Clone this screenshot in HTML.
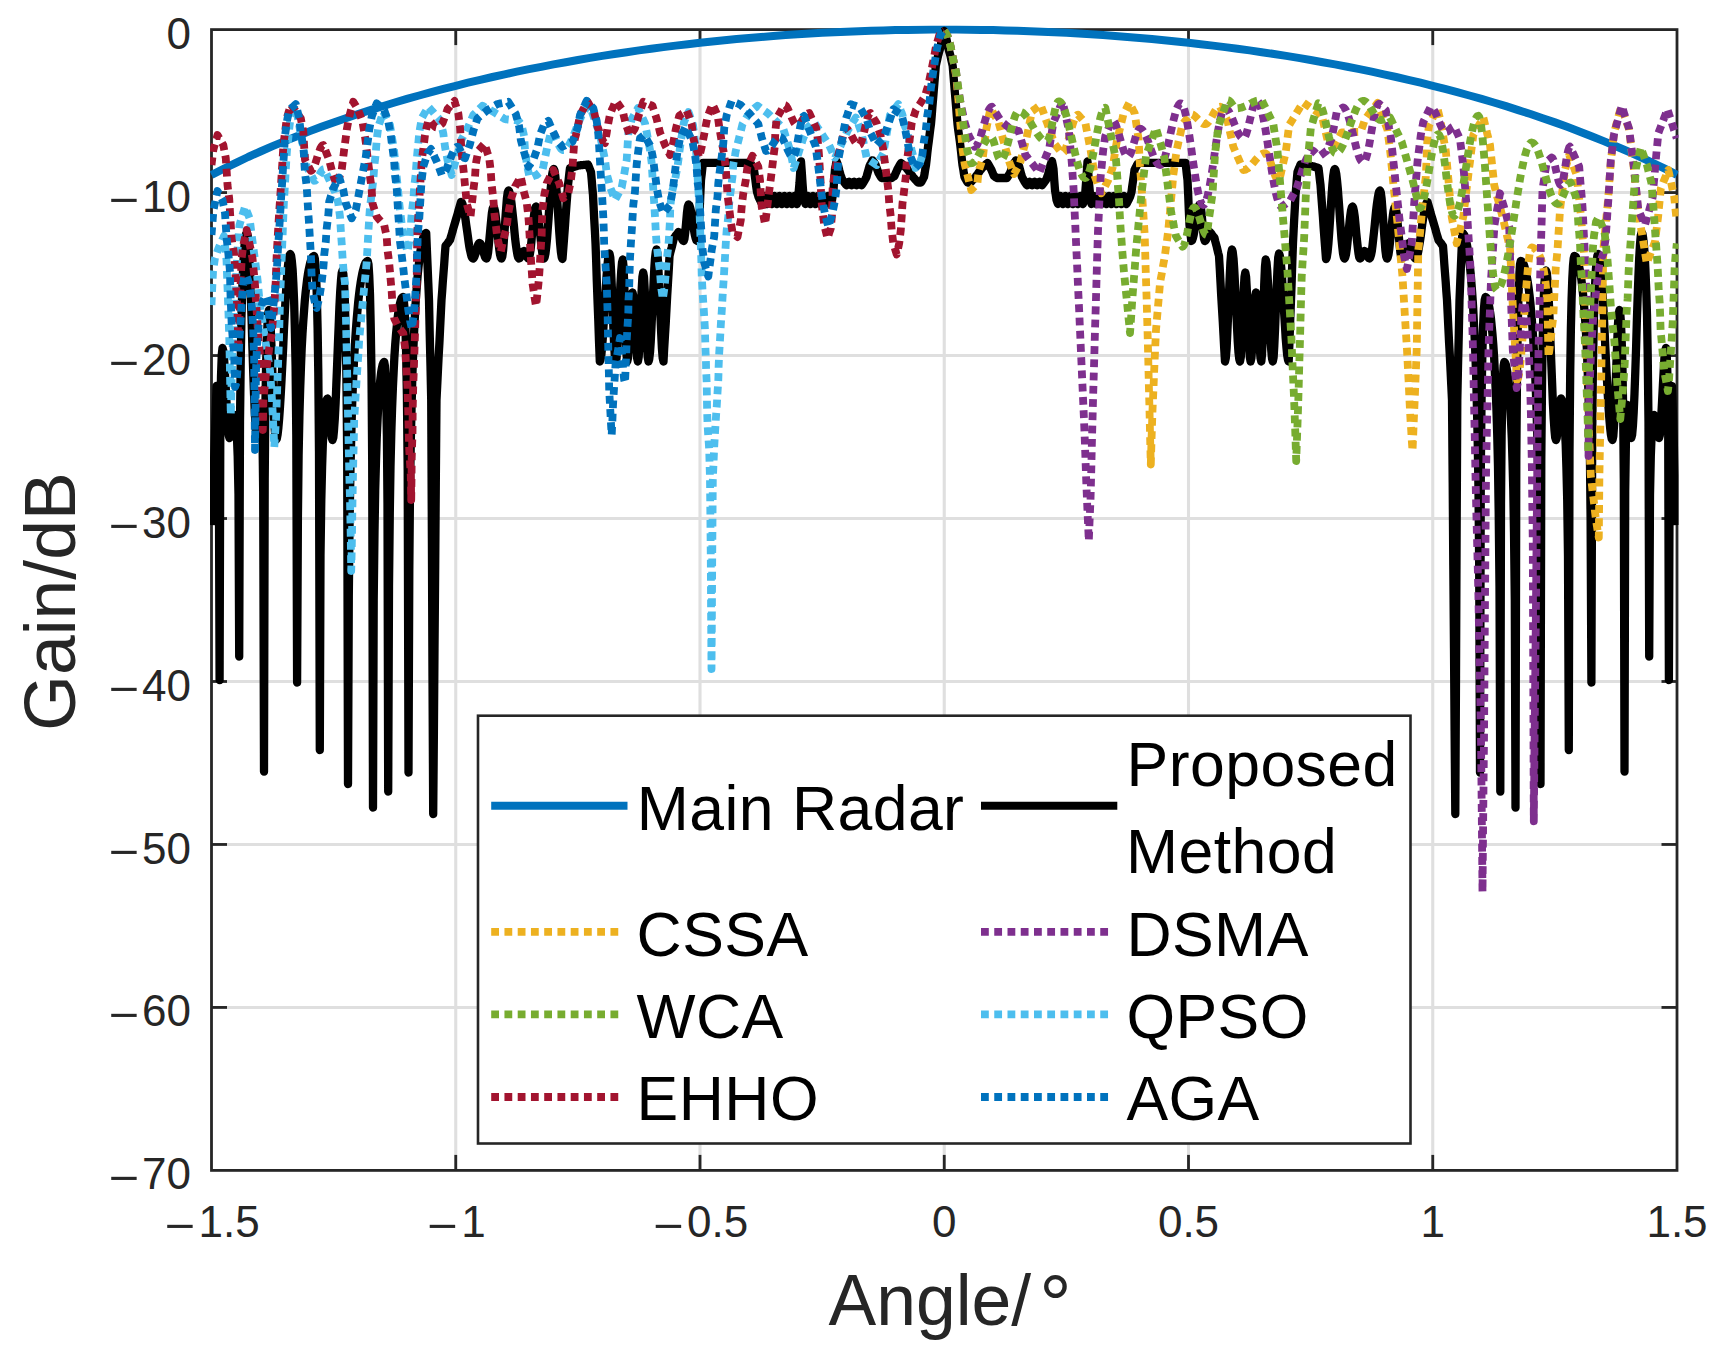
<!DOCTYPE html>
<html lang="en"><head><meta charset="utf-8"><title>Gain vs Angle</title>
<style>html,body{margin:0;padding:0;background:#fff;}body{width:1725px;height:1354px;overflow:hidden;}svg{display:block;}text{font-family:"Liberation Sans",sans-serif;fill:#262626;}.tk{font-size:44px;}.lg{font-size:62.5px;fill:#000;letter-spacing:0.45px;}.al{font-size:71.5px;}.c{fill:none;stroke-linejoin:round;}.d{fill:none;stroke-width:7.8;stroke-dasharray:7.8 5.45;stroke-linejoin:round;}</style></head><body>
<svg width="1725" height="1354" viewBox="0 0 1725 1354">
<rect x="0" y="0" width="1725" height="1354" fill="#fff"/>
<g stroke="#dfdfdf" stroke-width="3.1" fill="none">
<line x1="455.75" y1="29.6" x2="455.75" y2="1170.4"/>
<line x1="700.00" y1="29.6" x2="700.00" y2="1170.4"/>
<line x1="944.25" y1="29.6" x2="944.25" y2="1170.4"/>
<line x1="1188.50" y1="29.6" x2="1188.50" y2="1170.4"/>
<line x1="1432.75" y1="29.6" x2="1432.75" y2="1170.4"/>
<line x1="211.5" y1="192.57" x2="1677.0" y2="192.57"/>
<line x1="211.5" y1="355.54" x2="1677.0" y2="355.54"/>
<line x1="211.5" y1="518.51" x2="1677.0" y2="518.51"/>
<line x1="211.5" y1="681.49" x2="1677.0" y2="681.49"/>
<line x1="211.5" y1="844.46" x2="1677.0" y2="844.46"/>
<line x1="211.5" y1="1007.43" x2="1677.0" y2="1007.43"/>
</g>
<g stroke="#262626" stroke-width="2.8" fill="none" stroke-linecap="butt">
<rect x="211.5" y="29.6" width="1465.5" height="1140.8000000000002"/>
<line x1="455.75" y1="1170.4" x2="455.75" y2="1154.9"/>
<line x1="455.75" y1="29.6" x2="455.75" y2="45.1"/>
<line x1="700.00" y1="1170.4" x2="700.00" y2="1154.9"/>
<line x1="700.00" y1="29.6" x2="700.00" y2="45.1"/>
<line x1="944.25" y1="1170.4" x2="944.25" y2="1154.9"/>
<line x1="944.25" y1="29.6" x2="944.25" y2="45.1"/>
<line x1="1188.50" y1="1170.4" x2="1188.50" y2="1154.9"/>
<line x1="1188.50" y1="29.6" x2="1188.50" y2="45.1"/>
<line x1="1432.75" y1="1170.4" x2="1432.75" y2="1154.9"/>
<line x1="1432.75" y1="29.6" x2="1432.75" y2="45.1"/>
<line x1="211.5" y1="192.57" x2="227.0" y2="192.57"/>
<line x1="1677.0" y1="192.57" x2="1661.5" y2="192.57"/>
<line x1="211.5" y1="355.54" x2="227.0" y2="355.54"/>
<line x1="1677.0" y1="355.54" x2="1661.5" y2="355.54"/>
<line x1="211.5" y1="518.51" x2="227.0" y2="518.51"/>
<line x1="1677.0" y1="518.51" x2="1661.5" y2="518.51"/>
<line x1="211.5" y1="681.49" x2="227.0" y2="681.49"/>
<line x1="1677.0" y1="681.49" x2="1661.5" y2="681.49"/>
<line x1="211.5" y1="844.46" x2="227.0" y2="844.46"/>
<line x1="1677.0" y1="844.46" x2="1661.5" y2="844.46"/>
<line x1="211.5" y1="1007.43" x2="227.0" y2="1007.43"/>
<line x1="1677.0" y1="1007.43" x2="1661.5" y2="1007.43"/>
</g>
<defs><clipPath id="pc"><rect x="210.0" y="25.6" width="1468.5" height="1144.8000000000002"/></clipPath></defs>
<g clip-path="url(#pc)">
<polyline class="c" stroke="#0072bd" stroke-width="8" points="211.5,174.9 223.7,168.7 235.9,162.8 248.1,157.0 260.4,151.5 272.6,146.2 284.8,141.1 297.0,136.2 309.2,131.4 321.4,126.8 333.6,122.4 345.8,118.2 358.1,114.0 370.3,110.1 382.5,106.2 394.7,102.5 406.9,98.9 419.1,95.5 431.3,92.1 443.5,88.9 455.8,85.8 468.0,82.7 480.2,79.8 492.4,77.0 504.6,74.3 516.8,71.7 529.0,69.2 541.2,66.8 553.5,64.4 565.7,62.2 577.9,60.0 590.1,57.9 602.3,55.9 614.5,54.0 626.7,52.2 638.9,50.4 651.1,48.7 663.4,47.1 675.6,45.6 687.8,44.2 700.0,42.8 712.2,41.5 724.4,40.2 736.6,39.1 748.9,38.0 761.1,37.0 773.3,36.0 785.5,35.1 797.7,34.3 809.9,33.5 822.1,32.8 834.3,32.2 846.6,31.7 858.8,31.2 871.0,30.8 883.2,30.4 895.4,30.1 907.6,29.9 919.8,29.7 932.0,29.6 944.2,29.6 956.5,29.6 968.7,29.7 980.9,29.9 993.1,30.1 1005.3,30.4 1017.5,30.8 1029.7,31.2 1041.9,31.7 1054.2,32.2 1066.4,32.8 1078.6,33.5 1090.8,34.3 1103.0,35.1 1115.2,36.0 1127.4,37.0 1139.7,38.0 1151.9,39.1 1164.1,40.2 1176.3,41.5 1188.5,42.8 1200.7,44.2 1212.9,45.6 1225.1,47.1 1237.4,48.7 1249.6,50.4 1261.8,52.2 1274.0,54.0 1286.2,55.9 1298.4,57.9 1310.6,60.0 1322.8,62.2 1335.0,64.4 1347.3,66.8 1359.5,69.2 1371.7,71.7 1383.9,74.3 1396.1,77.0 1408.3,79.8 1420.5,82.7 1432.8,85.8 1445.0,88.9 1457.2,92.1 1469.4,95.5 1481.6,98.9 1493.8,102.5 1506.0,106.2 1518.2,110.1 1530.5,114.0 1542.7,118.2 1554.9,122.4 1567.1,126.8 1579.3,131.4 1591.5,136.2 1603.7,141.1 1615.9,146.2 1628.2,151.5 1640.4,157.0 1652.6,162.8 1664.8,168.7 1677.0,174.9"/>
<polyline class="c" stroke="#000" stroke-width="8.3" points="211.0,525.0 211.6,513.8 212.2,502.5 212.9,491.2 213.5,480.0 214.2,456.5 215.0,433.0 215.8,409.5 216.5,386.0 217.3,391.8 218.0,411.3 218.8,455.5 219.6,680.0 220.3,426.5 221.0,376.6 221.8,354.5 222.5,348.0 223.3,350.7 224.1,358.5 224.8,370.5 225.6,385.2 226.4,400.8 227.2,415.5 227.9,427.5 228.7,435.3 229.5,438.0 230.2,436.9 230.9,433.7 231.6,429.1 232.4,423.9 233.1,419.3 233.8,416.1 234.5,415.0 235.3,417.1 236.1,423.6 236.9,435.8 237.7,456.4 238.5,494.7 239.2,656.5 240.0,421.9 240.8,354.6 241.5,315.2 242.3,288.3 243.1,269.0 243.8,254.8 244.6,244.7 245.4,237.8 246.1,233.8 246.9,232.5 247.7,235.5 248.5,244.3 249.3,258.3 250.1,276.9 250.9,298.8 251.7,322.9 252.4,347.6 253.2,371.7 254.0,393.6 254.8,412.2 255.6,426.2 256.4,435.0 257.2,438.0 258.0,434.8 258.7,426.6 259.5,416.4 260.2,408.2 261.0,405.0 261.8,412.2 262.5,436.5 263.2,491.7 264.0,771.5 264.7,478.7 265.4,405.1 266.1,364.1 266.9,338.2 267.6,322.0 268.3,312.9 269.0,310.0 269.8,313.9 270.6,325.2 271.3,342.5 272.1,363.7 272.9,386.3 273.7,407.5 274.4,424.8 275.2,436.1 276.0,440.0 276.8,438.6 277.6,434.4 278.4,427.5 279.2,418.2 280.0,406.8 280.8,393.5 281.6,378.8 282.4,363.1 283.2,347.0 283.9,330.9 284.7,315.2 285.5,300.5 286.3,287.2 287.1,275.8 287.9,266.5 288.7,259.6 289.5,255.4 290.3,254.0 291.1,255.6 291.8,260.6 292.6,269.3 293.3,282.4 294.1,301.0 294.8,327.4 295.6,366.9 296.3,435.3 297.1,682.5 297.9,518.1 298.6,455.6 299.4,416.5 300.2,388.2 301.0,366.2 301.7,348.4 302.5,333.5 303.3,320.9 304.1,310.1 304.8,300.8 305.6,292.7 306.4,285.7 307.1,279.6 307.9,274.3 308.7,269.8 309.5,266.1 310.2,262.9 311.0,260.4 311.8,258.5 312.6,257.1 313.3,256.3 314.1,256.0 314.8,258.4 315.5,265.7 316.2,278.7 316.9,298.5 317.6,327.9 318.3,372.8 319.0,451.7 319.8,750.0 320.5,555.5 321.3,499.7 322.1,467.0 322.8,444.8 323.6,428.8 324.4,417.0 325.2,408.6 326.0,402.9 326.7,399.6 327.5,398.5 328.2,400.6 328.9,406.3 329.6,414.6 330.4,423.9 331.1,432.2 331.8,437.9 332.5,440.0 333.3,437.5 334.0,430.3 334.8,418.7 335.6,403.4 336.3,385.3 337.1,365.5 337.9,345.0 338.7,325.2 339.4,307.1 340.2,291.8 341.0,280.2 341.7,273.0 342.5,270.5 343.3,273.7 344.1,283.8 344.9,301.9 345.6,330.7 346.4,376.3 347.2,458.3 348.0,784.0 348.8,595.5 349.6,520.5 350.4,473.1 351.2,438.6 351.9,411.6 352.7,389.6 353.5,371.1 354.3,355.4 355.1,341.8 355.9,329.9 356.7,319.4 357.5,310.2 358.2,302.1 359.0,294.9 359.8,288.6 360.6,283.0 361.4,278.2 362.2,274.0 363.0,270.5 363.8,267.5 364.5,265.2 365.3,263.3 366.1,262.0 366.9,261.3 367.7,261.0 368.5,264.5 369.2,275.2 370.0,294.4 370.7,325.0 371.5,373.6 372.2,460.8 373.0,807.5 373.7,600.6 374.5,532.0 375.2,490.3 376.0,460.8 376.7,438.3 377.5,420.7 378.2,406.4 379.0,394.9 379.7,385.5 380.5,377.9 381.2,372.0 382.0,367.6 382.7,364.5 383.5,362.6 384.2,362.0 384.9,365.7 385.5,377.4 386.2,399.0 386.9,435.6 387.5,503.8 388.2,791.5 389.0,586.2 389.8,512.2 390.5,466.4 391.3,433.5 392.1,408.1 392.9,387.7 393.7,370.9 394.4,356.8 395.2,344.8 396.0,334.7 396.8,326.1 397.5,318.9 398.3,312.8 399.1,307.8 399.9,303.9 400.7,300.8 401.4,298.7 402.2,297.4 403.0,297.0 403.8,300.0 404.6,309.3 405.4,326.1 406.1,352.7 406.9,394.9 407.7,470.9 408.5,772.5 409.3,569.3 410.0,490.8 410.8,441.5 411.6,405.8 412.3,377.9 413.1,355.3 413.9,336.4 414.7,320.4 415.4,306.6 416.2,294.6 417.0,284.1 417.7,275.0 418.5,267.1 419.3,260.1 420.0,254.1 420.8,249.0 421.6,244.6 422.4,241.0 423.1,238.1 423.9,235.8 424.7,234.3 425.4,233.3 426.2,233.0 426.9,249.8 427.6,266.5 428.3,283.2 429.0,300.0 429.7,333.3 430.5,366.7 431.2,400.0 431.9,538.0 432.5,676.0 433.2,814.0 433.9,731.2 434.5,648.4 435.2,565.6 435.8,482.8 436.5,400.0 437.2,385.7 437.9,371.4 438.6,357.1 439.4,342.9 440.1,328.6 440.8,314.3 441.5,300.0 442.2,291.0 442.8,282.0 443.5,273.0 444.2,264.0 444.8,255.0 445.5,246.0 446.2,245.0 447.0,244.0 447.8,243.0 448.5,242.0 449.2,241.0 450.0,240.0 450.8,237.3 451.6,234.6 452.4,231.9 453.1,229.1 453.9,226.4 454.7,223.7 455.5,221.0 456.3,218.3 457.1,215.6 457.9,212.9 458.6,210.1 459.4,207.4 460.2,204.7 461.0,202.0 461.8,202.5 462.5,204.2 463.2,206.8 464.0,210.3 464.8,214.6 465.5,219.4 466.2,224.7 467.0,230.2 467.8,235.8 468.5,241.1 469.2,245.9 470.0,250.2 470.8,253.7 471.5,256.3 472.2,258.0 473.0,258.5 473.7,258.0 474.4,256.7 475.2,254.6 475.9,252.1 476.6,249.4 477.3,246.9 478.1,244.8 478.8,243.5 479.5,243.0 480.3,243.5 481.1,244.8 481.8,246.9 482.6,249.4 483.4,252.1 484.2,254.6 484.9,256.7 485.7,258.0 486.5,258.5 487.3,256.9 488.1,252.5 488.8,245.6 489.6,237.2 490.4,228.3 491.2,219.9 491.9,213.0 492.7,208.6 493.5,207.0 494.2,208.0 495.0,211.1 495.7,215.9 496.4,222.1 497.1,229.1 497.9,236.4 498.6,243.4 499.3,249.6 500.0,254.4 500.8,257.5 501.5,258.5 502.3,256.4 503.1,250.5 503.8,241.5 504.6,230.4 505.4,218.6 506.2,207.5 506.9,198.5 507.7,192.6 508.5,190.5 509.2,191.4 510.0,193.9 510.8,197.9 511.5,203.3 512.2,209.7 513.0,216.9 513.8,224.5 514.5,232.1 515.2,239.3 516.0,245.7 516.8,251.1 517.5,255.1 518.2,257.6 519.0,258.5 519.7,258.1 520.4,257.1 521.1,255.6 521.9,253.9 522.6,252.4 523.3,251.4 524.0,251.0 524.8,251.5 525.5,252.9 526.2,254.8 527.0,256.6 527.8,258.0 528.5,258.5 529.2,257.2 530.0,253.5 530.8,247.8 531.5,240.5 532.2,232.5 533.0,224.5 533.8,217.2 534.5,211.5 535.2,207.8 536.0,206.5 536.7,207.6 537.5,210.6 538.2,215.5 538.9,221.7 539.6,228.8 540.4,236.2 541.1,243.3 541.8,249.5 542.5,254.4 543.3,257.4 544.0,258.5 544.7,257.2 545.5,253.4 546.2,247.2 547.0,239.2 547.7,229.6 548.5,219.1 549.2,208.4 550.0,197.9 550.7,188.3 551.5,180.3 552.2,174.1 553.0,170.3 553.7,169.0 554.5,170.8 555.3,176.1 556.1,184.5 556.9,195.3 557.7,207.6 558.5,220.4 559.3,232.7 560.1,243.5 560.9,251.9 561.7,257.2 562.5,259.0 563.3,248.4 564.1,237.9 564.9,227.3 565.6,216.7 566.4,206.1 567.2,195.6 568.0,185.0 568.7,179.3 569.3,173.7 570.0,168.0 570.8,167.8 571.5,167.5 572.3,167.3 573.1,167.1 573.9,166.9 574.6,166.6 575.4,166.4 576.2,166.2 577.0,166.0 577.7,165.7 578.5,165.5 579.3,165.4 580.1,165.3 580.9,165.2 581.7,165.2 582.5,165.1 583.2,165.0 584.0,164.9 584.8,164.8 585.6,164.8 586.4,164.7 587.2,164.6 588.0,164.5 588.8,166.4 589.5,168.2 590.2,170.1 591.0,172.0 591.7,179.7 592.3,187.3 593.0,195.0 593.6,207.0 594.2,219.0 594.9,231.0 595.5,243.0 596.2,262.0 596.8,281.0 597.5,300.0 598.3,320.5 599.0,341.0 599.8,361.5 600.5,359.9 601.3,355.3 602.0,347.9 602.8,338.2 603.5,326.6 604.3,314.0 605.0,301.0 605.8,288.4 606.5,276.8 607.3,267.1 608.0,259.7 608.8,255.1 609.5,253.5 610.3,257.6 611.0,269.3 611.8,286.8 612.6,307.5 613.4,328.2 614.2,345.7 614.9,357.4 615.7,361.5 616.5,358.4 617.3,349.6 618.1,336.0 618.9,319.4 619.6,301.6 620.4,285.0 621.2,271.4 622.0,262.6 622.8,259.5 623.5,266.3 624.3,285.0 625.0,310.5 625.7,336.0 626.5,354.7 627.2,361.5 628.0,358.1 628.7,348.5 629.5,334.7 630.2,319.3 631.0,305.5 631.7,295.9 632.5,292.5 633.3,295.9 634.0,305.5 634.8,319.3 635.6,334.7 636.4,348.5 637.1,358.1 637.9,361.5 638.7,357.1 639.4,344.7 640.2,326.9 640.9,307.1 641.7,289.3 642.4,276.9 643.2,272.5 644.0,276.9 644.7,289.3 645.5,307.1 646.2,326.9 647.0,344.7 647.7,357.1 648.5,361.5 649.2,359.2 650.0,352.6 650.7,342.2 651.4,328.8 652.1,313.5 652.9,297.5 653.6,282.2 654.3,268.8 655.0,258.4 655.8,251.8 656.5,249.5 657.3,252.9 658.1,262.6 658.8,277.5 659.6,295.8 660.4,315.2 661.2,333.5 661.9,348.4 662.7,358.1 663.5,361.5 664.2,348.3 665.0,335.1 665.8,321.9 666.5,308.8 667.2,295.6 668.0,282.4 668.8,269.2 669.5,256.0 670.2,253.0 671.0,250.0 671.8,247.0 672.5,244.0 673.2,241.0 674.0,238.0 674.8,237.0 675.5,236.0 676.2,235.0 677.0,234.0 677.8,233.0 678.5,232.0 679.2,232.4 680.0,233.7 680.7,235.5 681.5,237.5 682.2,239.3 683.0,240.6 683.7,241.0 684.5,238.6 685.3,231.9 686.1,222.8 686.9,213.6 687.7,206.9 688.5,204.5 689.3,205.2 690.1,207.4 690.9,210.8 691.7,215.2 692.5,220.2 693.2,225.3 694.0,230.3 694.8,234.7 695.6,238.1 696.4,240.3 697.2,241.0 697.8,235.7 698.4,230.3 699.0,225.0 699.7,210.0 700.3,195.0 701.0,180.0 701.7,174.3 702.3,168.5 703.0,162.8 703.8,162.8 704.6,162.8 705.4,162.8 706.2,162.8 707.0,162.8 707.8,162.8 708.6,162.8 709.4,162.8 710.2,162.8 710.9,162.8 711.7,162.8 712.5,162.8 713.3,162.8 714.1,162.8 714.9,162.8 715.7,162.8 716.5,162.8 717.3,162.8 718.1,162.8 718.9,162.8 719.7,162.8 720.5,162.8 721.3,162.8 722.1,162.8 722.9,162.8 723.7,162.8 724.5,162.8 725.2,162.8 726.0,162.8 726.8,162.8 727.6,162.8 728.4,162.8 729.2,162.8 730.0,162.8 730.8,162.8 731.6,162.8 732.4,162.8 733.2,162.8 734.0,162.8 734.8,162.8 735.6,162.8 736.4,162.8 737.2,162.8 738.0,162.8 738.8,162.8 739.6,162.8 740.3,162.8 741.1,162.8 741.9,162.8 742.7,162.8 743.5,162.8 744.3,162.8 745.1,162.8 745.9,162.8 746.7,162.8 747.5,162.8 748.2,163.0 748.9,163.3 749.6,163.5 750.3,163.8 751.0,164.0 751.8,165.5 752.5,167.0 753.2,168.5 754.0,170.0 754.8,175.5 755.5,181.0 756.2,186.5 757.0,192.0 757.8,194.5 758.5,197.0 759.2,198.4 759.9,199.8 760.6,201.2 761.3,202.6 762.0,204.0 762.6,202.0 763.2,200.0 763.9,198.0 764.5,196.0 765.1,198.0 765.8,200.0 766.4,202.0 767.0,204.0 767.6,202.0 768.2,200.0 768.9,198.0 769.5,196.0 770.1,198.0 770.8,200.0 771.4,202.0 772.0,204.0 772.6,202.0 773.2,200.0 773.9,198.0 774.5,196.0 775.1,198.0 775.8,200.0 776.4,202.0 777.0,204.0 777.6,202.0 778.2,200.0 778.9,198.0 779.5,196.0 780.1,198.0 780.8,200.0 781.4,202.0 782.0,204.0 782.6,202.0 783.2,200.0 783.9,198.0 784.5,196.0 785.1,198.0 785.8,200.0 786.4,202.0 787.0,204.0 787.6,202.0 788.2,200.0 788.9,198.0 789.5,196.0 790.1,198.0 790.8,200.0 791.4,202.0 792.0,204.0 792.6,202.0 793.2,200.0 793.9,198.0 794.5,196.0 795.1,198.0 795.8,200.0 796.4,202.0 797.0,204.0 797.6,201.0 798.2,198.0 798.8,190.5 799.5,183.0 800.2,172.2 801.0,161.5 801.8,172.2 802.5,183.0 803.0,189.5 803.5,196.0 804.2,198.7 804.8,201.3 805.5,204.0 806.1,202.0 806.8,200.0 807.4,198.0 808.0,196.0 808.6,198.0 809.2,200.0 809.9,202.0 810.5,204.0 811.1,202.0 811.8,200.0 812.4,198.0 813.0,196.0 813.6,198.0 814.2,200.0 814.9,202.0 815.5,204.0 816.1,202.0 816.8,200.0 817.4,198.0 818.0,196.0 818.6,198.0 819.2,200.0 819.9,202.0 820.5,204.0 821.1,202.0 821.8,200.0 822.4,198.0 823.0,196.0 823.6,198.0 824.2,200.0 824.9,202.0 825.5,204.0 826.1,202.0 826.8,200.0 827.4,198.0 828.0,196.0 828.6,198.0 829.2,200.0 829.9,202.0 830.5,204.0 831.2,202.0 832.0,200.0 832.8,195.0 833.5,190.0 834.2,179.5 835.0,169.0 835.8,165.0 836.5,161.0 837.2,163.0 838.0,165.0 838.6,167.5 839.2,170.0 839.9,172.5 840.5,175.0 841.2,176.7 841.8,178.3 842.5,180.0 843.2,180.9 843.8,181.8 844.5,182.7 845.2,183.5 845.8,184.4 846.5,185.3 847.1,184.4 847.8,183.5 848.4,182.6 849.0,181.7 849.6,182.6 850.2,183.5 850.9,184.4 851.5,185.3 852.1,184.4 852.8,183.5 853.4,182.6 854.0,181.7 854.6,182.6 855.2,183.5 855.9,184.4 856.5,185.3 857.1,184.4 857.8,183.5 858.4,182.6 859.0,181.7 859.6,182.6 860.2,183.5 860.9,184.4 861.5,185.3 862.2,184.4 862.8,183.4 863.5,182.5 864.2,181.1 865.0,179.8 865.8,178.4 866.5,177.0 867.2,174.2 868.0,171.5 868.8,168.8 869.5,166.0 870.2,164.6 871.0,163.2 871.8,161.7 872.5,160.3 873.2,161.4 874.0,162.4 874.8,163.4 875.5,164.5 876.2,166.6 877.0,168.8 877.8,170.9 878.5,173.0 879.2,174.2 880.0,175.5 880.8,176.8 881.5,178.0 882.3,178.0 883.0,178.0 883.8,178.0 884.6,178.0 885.3,178.0 886.1,178.0 886.9,178.0 887.7,178.0 888.4,178.0 889.2,178.0 890.0,178.0 890.7,178.0 891.5,178.0 892.2,177.5 893.0,177.0 893.8,176.5 894.5,176.0 895.2,174.2 896.0,172.5 896.8,170.8 897.5,169.0 898.2,167.8 898.9,166.6 899.6,165.4 900.3,164.2 901.0,163.0 901.8,163.7 902.6,164.4 903.4,165.1 904.1,165.9 904.9,166.6 905.7,167.3 906.5,168.0 907.2,169.0 907.9,170.0 908.7,171.0 909.4,172.0 910.1,173.0 910.8,174.0 911.6,175.0 912.3,176.0 913.0,177.0 913.7,177.8 914.4,178.6 915.1,179.4 915.9,180.1 916.6,180.9 917.3,181.7 918.0,182.5 918.8,182.5 919.5,182.5 920.2,182.5 921.0,182.5 921.8,181.1 922.5,179.8 923.2,178.4 924.0,177.0 924.7,173.0 925.3,169.0 926.0,165.0 926.7,159.0 927.3,153.0 928.0,147.0 928.8,141.2 929.5,135.5 930.2,129.8 931.0,124.0 931.7,116.0 932.3,108.0 933.0,100.0 933.7,91.5 934.4,83.0 935.1,74.5 935.8,66.0 936.5,62.7 937.3,59.3 938.0,56.0 938.6,53.8 939.2,51.5 939.9,49.2 940.5,47.0 941.2,43.7 941.8,40.3 942.5,37.0 943.1,35.0 943.7,33.0 944.2,31.0 944.8,33.0 945.4,35.0 946.0,37.0 946.7,40.3 947.3,43.7 948.0,47.0 948.6,49.2 949.2,51.5 949.9,53.8 950.5,56.0 951.2,59.3 952.0,62.7 952.7,66.0 953.4,74.5 954.1,83.0 954.8,91.5 955.5,100.0 956.2,108.0 956.8,116.0 957.5,124.0 958.2,129.8 959.0,135.5 959.8,141.2 960.5,147.0 961.2,153.0 961.8,159.0 962.5,165.0 963.2,169.0 963.8,173.0 964.5,177.0 965.2,178.4 966.0,179.8 966.8,181.1 967.5,182.5 968.2,182.5 969.0,182.5 969.8,182.5 970.5,182.5 971.2,181.7 971.9,180.9 972.6,180.1 973.4,179.4 974.1,178.6 974.8,177.8 975.5,177.0 976.2,176.0 976.9,175.0 977.7,174.0 978.4,173.0 979.1,172.0 979.8,171.0 980.6,170.0 981.3,169.0 982.0,168.0 982.8,167.3 983.6,166.6 984.4,165.9 985.1,165.1 985.9,164.4 986.7,163.7 987.5,163.0 988.2,164.2 988.9,165.4 989.6,166.6 990.3,167.8 991.0,169.0 991.8,170.8 992.5,172.5 993.2,174.2 994.0,176.0 994.8,176.5 995.5,177.0 996.2,177.5 997.0,178.0 997.8,178.0 998.5,178.0 999.3,178.0 1000.1,178.0 1000.8,178.0 1001.6,178.0 1002.4,178.0 1003.2,178.0 1003.9,178.0 1004.7,178.0 1005.5,178.0 1006.2,178.0 1007.0,178.0 1007.8,176.8 1008.5,175.5 1009.2,174.2 1010.0,173.0 1010.8,170.9 1011.5,168.8 1012.2,166.6 1013.0,164.5 1013.8,163.4 1014.5,162.4 1015.2,161.4 1016.0,160.3 1016.8,161.7 1017.5,163.2 1018.2,164.6 1019.0,166.0 1019.8,168.8 1020.5,171.5 1021.2,174.2 1022.0,177.0 1022.8,178.4 1023.5,179.8 1024.2,181.1 1025.0,182.5 1025.7,183.4 1026.3,184.4 1027.0,185.3 1027.6,184.4 1028.2,183.5 1028.9,182.6 1029.5,181.7 1030.1,182.6 1030.8,183.5 1031.4,184.4 1032.0,185.3 1032.6,184.4 1033.2,183.5 1033.9,182.6 1034.5,181.7 1035.1,182.6 1035.8,183.5 1036.4,184.4 1037.0,185.3 1037.6,184.4 1038.2,183.5 1038.9,182.6 1039.5,181.7 1040.1,182.6 1040.8,183.5 1041.4,184.4 1042.0,185.3 1042.7,184.4 1043.3,183.5 1044.0,182.7 1044.7,181.8 1045.3,180.9 1046.0,180.0 1046.7,178.3 1047.3,176.7 1048.0,175.0 1048.6,172.5 1049.2,170.0 1049.9,167.5 1050.5,165.0 1051.2,163.0 1052.0,161.0 1052.8,165.0 1053.5,169.0 1054.2,179.5 1055.0,190.0 1055.8,195.0 1056.5,200.0 1057.2,202.0 1058.0,204.0 1058.6,202.0 1059.2,200.0 1059.9,198.0 1060.5,196.0 1061.1,198.0 1061.8,200.0 1062.4,202.0 1063.0,204.0 1063.6,202.0 1064.2,200.0 1064.9,198.0 1065.5,196.0 1066.1,198.0 1066.8,200.0 1067.4,202.0 1068.0,204.0 1068.6,202.0 1069.2,200.0 1069.9,198.0 1070.5,196.0 1071.1,198.0 1071.8,200.0 1072.4,202.0 1073.0,204.0 1073.6,202.0 1074.2,200.0 1074.9,198.0 1075.5,196.0 1076.1,198.0 1076.8,200.0 1077.4,202.0 1078.0,204.0 1078.6,202.0 1079.2,200.0 1079.9,198.0 1080.5,196.0 1081.1,198.0 1081.8,200.0 1082.4,202.0 1083.0,204.0 1083.7,201.3 1084.3,198.7 1085.0,196.0 1085.5,189.5 1086.0,183.0 1086.8,172.2 1087.5,161.5 1088.2,172.2 1089.0,183.0 1089.7,190.5 1090.3,198.0 1090.9,201.0 1091.5,204.0 1092.1,202.0 1092.8,200.0 1093.4,198.0 1094.0,196.0 1094.6,198.0 1095.2,200.0 1095.9,202.0 1096.5,204.0 1097.1,202.0 1097.8,200.0 1098.4,198.0 1099.0,196.0 1099.6,198.0 1100.2,200.0 1100.9,202.0 1101.5,204.0 1102.1,202.0 1102.8,200.0 1103.4,198.0 1104.0,196.0 1104.6,198.0 1105.2,200.0 1105.9,202.0 1106.5,204.0 1107.1,202.0 1107.8,200.0 1108.4,198.0 1109.0,196.0 1109.6,198.0 1110.2,200.0 1110.9,202.0 1111.5,204.0 1112.1,202.0 1112.8,200.0 1113.4,198.0 1114.0,196.0 1114.6,198.0 1115.2,200.0 1115.9,202.0 1116.5,204.0 1117.1,202.0 1117.8,200.0 1118.4,198.0 1119.0,196.0 1119.6,198.0 1120.2,200.0 1120.9,202.0 1121.5,204.0 1122.1,202.0 1122.8,200.0 1123.4,198.0 1124.0,196.0 1124.6,198.0 1125.2,200.0 1125.9,202.0 1126.5,204.0 1127.2,202.6 1127.9,201.2 1128.6,199.8 1129.3,198.4 1130.0,197.0 1130.8,194.5 1131.5,192.0 1132.2,186.5 1133.0,181.0 1133.8,175.5 1134.5,170.0 1135.2,168.5 1136.0,167.0 1136.8,165.5 1137.5,164.0 1138.2,163.8 1138.9,163.5 1139.6,163.3 1140.3,163.0 1141.0,162.8 1141.8,162.8 1142.6,162.8 1143.4,162.8 1144.2,162.8 1145.0,162.8 1145.8,162.8 1146.6,162.8 1147.4,162.8 1148.2,162.8 1148.9,162.8 1149.7,162.8 1150.5,162.8 1151.3,162.8 1152.1,162.8 1152.9,162.8 1153.7,162.8 1154.5,162.8 1155.3,162.8 1156.1,162.8 1156.9,162.8 1157.7,162.8 1158.5,162.8 1159.3,162.8 1160.1,162.8 1160.9,162.8 1161.7,162.8 1162.5,162.8 1163.2,162.8 1164.0,162.8 1164.8,162.8 1165.6,162.8 1166.4,162.8 1167.2,162.8 1168.0,162.8 1168.8,162.8 1169.6,162.8 1170.4,162.8 1171.2,162.8 1172.0,162.8 1172.8,162.8 1173.6,162.8 1174.4,162.8 1175.2,162.8 1176.0,162.8 1176.8,162.8 1177.6,162.8 1178.3,162.8 1179.1,162.8 1179.9,162.8 1180.7,162.8 1181.5,162.8 1182.3,162.8 1183.1,162.8 1183.9,162.8 1184.7,162.8 1185.5,162.8 1186.2,168.5 1186.8,174.3 1187.5,180.0 1188.2,195.0 1188.8,210.0 1189.5,225.0 1190.1,230.3 1190.7,235.7 1191.3,241.0 1192.1,240.3 1192.9,238.1 1193.7,234.7 1194.5,230.3 1195.3,225.3 1196.0,220.2 1196.8,215.2 1197.6,210.8 1198.4,207.4 1199.2,205.2 1200.0,204.5 1200.8,206.9 1201.6,213.6 1202.4,222.8 1203.2,231.9 1204.0,238.6 1204.8,241.0 1205.5,240.6 1206.3,239.3 1207.0,237.5 1207.8,235.5 1208.5,233.7 1209.3,232.4 1210.0,232.0 1210.8,233.0 1211.5,234.0 1212.2,235.0 1213.0,236.0 1213.8,237.0 1214.5,238.0 1215.2,241.0 1216.0,244.0 1216.8,247.0 1217.5,250.0 1218.2,253.0 1219.0,256.0 1219.8,269.2 1220.5,282.4 1221.2,295.6 1222.0,308.8 1222.8,321.9 1223.5,335.1 1224.2,348.3 1225.0,361.5 1225.8,358.1 1226.6,348.4 1227.3,333.5 1228.1,315.2 1228.9,295.8 1229.7,277.5 1230.4,262.6 1231.2,252.9 1232.0,249.5 1232.7,251.8 1233.5,258.4 1234.2,268.8 1234.9,282.2 1235.6,297.5 1236.4,313.5 1237.1,328.8 1237.8,342.2 1238.5,352.6 1239.3,359.2 1240.0,361.5 1240.8,357.1 1241.5,344.7 1242.3,326.9 1243.0,307.1 1243.8,289.3 1244.5,276.9 1245.3,272.5 1246.1,276.9 1246.8,289.3 1247.6,307.1 1248.3,326.9 1249.1,344.7 1249.8,357.1 1250.6,361.5 1251.4,358.1 1252.1,348.5 1252.9,334.7 1253.7,319.3 1254.5,305.5 1255.2,295.9 1256.0,292.5 1256.8,295.9 1257.5,305.5 1258.3,319.3 1259.0,334.7 1259.8,348.5 1260.5,358.1 1261.3,361.5 1262.0,354.7 1262.8,336.0 1263.5,310.5 1264.2,285.0 1265.0,266.3 1265.7,259.5 1266.5,262.6 1267.3,271.4 1268.1,285.0 1268.9,301.6 1269.6,319.4 1270.4,336.0 1271.2,349.6 1272.0,358.4 1272.8,361.5 1273.6,357.4 1274.3,345.7 1275.1,328.2 1275.9,307.5 1276.7,286.8 1277.5,269.3 1278.2,257.6 1279.0,253.5 1279.7,255.1 1280.5,259.7 1281.2,267.1 1282.0,276.8 1282.7,288.4 1283.5,301.0 1284.2,314.0 1285.0,326.6 1285.7,338.2 1286.5,347.9 1287.2,355.3 1288.0,359.9 1288.7,361.5 1289.5,341.0 1290.2,320.5 1291.0,300.0 1291.7,281.0 1292.3,262.0 1293.0,243.0 1293.6,231.0 1294.2,219.0 1294.9,207.0 1295.5,195.0 1296.2,187.3 1296.8,179.7 1297.5,172.0 1298.2,170.1 1299.0,168.2 1299.8,166.4 1300.5,164.5 1301.3,164.6 1302.1,164.7 1302.9,164.8 1303.7,164.8 1304.5,164.9 1305.2,165.0 1306.0,165.1 1306.8,165.2 1307.6,165.2 1308.4,165.3 1309.2,165.4 1310.0,165.5 1310.8,165.7 1311.5,166.0 1312.3,166.2 1313.1,166.4 1313.9,166.6 1314.6,166.9 1315.4,167.1 1316.2,167.3 1317.0,167.5 1317.7,167.8 1318.5,168.0 1319.2,173.7 1319.8,179.3 1320.5,185.0 1321.3,195.6 1322.1,206.1 1322.9,216.7 1323.6,227.3 1324.4,237.9 1325.2,248.4 1326.0,259.0 1326.8,257.2 1327.6,251.9 1328.4,243.5 1329.2,232.7 1330.0,220.4 1330.8,207.6 1331.6,195.3 1332.4,184.5 1333.2,176.1 1334.0,170.8 1334.8,169.0 1335.5,170.3 1336.3,174.1 1337.0,180.3 1337.8,188.3 1338.5,197.9 1339.3,208.4 1340.0,219.1 1340.8,229.6 1341.5,239.2 1342.3,247.2 1343.0,253.4 1343.8,257.2 1344.5,258.5 1345.2,257.4 1346.0,254.4 1346.7,249.5 1347.4,243.3 1348.1,236.2 1348.9,228.8 1349.6,221.7 1350.3,215.5 1351.0,210.6 1351.8,207.6 1352.5,206.5 1353.2,207.8 1354.0,211.5 1354.8,217.2 1355.5,224.5 1356.2,232.5 1357.0,240.5 1357.8,247.8 1358.5,253.5 1359.2,257.2 1360.0,258.5 1360.8,258.0 1361.5,256.6 1362.2,254.8 1363.0,252.9 1363.8,251.5 1364.5,251.0 1365.2,251.4 1365.9,252.4 1366.6,253.9 1367.4,255.6 1368.1,257.1 1368.8,258.1 1369.5,258.5 1370.2,257.6 1371.0,255.1 1371.8,251.1 1372.5,245.7 1373.2,239.3 1374.0,232.1 1374.8,224.5 1375.5,216.9 1376.2,209.7 1377.0,203.3 1377.8,197.9 1378.5,193.9 1379.2,191.4 1380.0,190.5 1380.8,192.6 1381.6,198.5 1382.3,207.5 1383.1,218.6 1383.9,230.4 1384.7,241.5 1385.4,250.5 1386.2,256.4 1387.0,258.5 1387.7,257.5 1388.5,254.4 1389.2,249.6 1389.9,243.4 1390.6,236.4 1391.4,229.1 1392.1,222.1 1392.8,215.9 1393.5,211.1 1394.3,208.0 1395.0,207.0 1395.8,208.6 1396.6,213.0 1397.3,219.9 1398.1,228.3 1398.9,237.2 1399.7,245.6 1400.4,252.5 1401.2,256.9 1402.0,258.5 1402.8,258.0 1403.6,256.7 1404.3,254.6 1405.1,252.1 1405.9,249.4 1406.7,246.9 1407.4,244.8 1408.2,243.5 1409.0,243.0 1409.7,243.5 1410.4,244.8 1411.2,246.9 1411.9,249.4 1412.6,252.1 1413.3,254.6 1414.1,256.7 1414.8,258.0 1415.5,258.5 1416.2,258.0 1417.0,256.3 1417.8,253.7 1418.5,250.2 1419.2,245.9 1420.0,241.1 1420.8,235.8 1421.5,230.2 1422.2,224.7 1423.0,219.4 1423.8,214.6 1424.5,210.3 1425.2,206.8 1426.0,204.2 1426.8,202.5 1427.5,202.0 1428.3,204.7 1429.1,207.4 1429.9,210.1 1430.6,212.9 1431.4,215.6 1432.2,218.3 1433.0,221.0 1433.8,223.7 1434.6,226.4 1435.4,229.1 1436.1,231.9 1436.9,234.6 1437.7,237.3 1438.5,240.0 1439.2,241.0 1440.0,242.0 1440.8,243.0 1441.5,244.0 1442.2,245.0 1443.0,246.0 1443.7,255.0 1444.3,264.0 1445.0,273.0 1445.7,282.0 1446.3,291.0 1447.0,300.0 1447.7,314.3 1448.4,328.6 1449.1,342.9 1449.9,357.1 1450.6,371.4 1451.3,385.7 1452.0,400.0 1452.7,482.8 1453.3,565.6 1454.0,648.4 1454.6,731.2 1455.3,814.0 1456.0,676.0 1456.6,538.0 1457.3,400.0 1458.0,366.7 1458.8,333.3 1459.5,300.0 1460.2,283.2 1460.9,266.5 1461.6,249.8 1462.3,233.0 1463.1,233.3 1463.8,234.3 1464.6,235.8 1465.4,238.1 1466.1,241.0 1466.9,244.6 1467.7,249.0 1468.5,254.1 1469.2,260.1 1470.0,267.1 1470.8,275.0 1471.5,284.1 1472.3,294.6 1473.1,306.6 1473.8,320.4 1474.6,336.4 1475.4,355.3 1476.2,377.9 1476.9,405.8 1477.7,441.5 1478.5,490.8 1479.2,569.3 1480.0,772.5 1480.8,470.9 1481.6,394.9 1482.4,352.7 1483.1,326.1 1483.9,309.3 1484.7,300.0 1485.5,297.0 1486.3,297.4 1487.1,298.7 1487.8,300.8 1488.6,303.9 1489.4,307.8 1490.2,312.8 1491.0,318.9 1491.7,326.1 1492.5,334.7 1493.3,344.8 1494.1,356.8 1494.8,370.9 1495.6,387.7 1496.4,408.1 1497.2,433.5 1498.0,466.4 1498.7,512.2 1499.5,586.2 1500.3,791.5 1501.0,503.8 1501.6,435.6 1502.3,399.0 1503.0,377.4 1503.6,365.7 1504.3,362.0 1505.0,362.6 1505.8,364.5 1506.5,367.6 1507.3,372.0 1508.0,377.9 1508.8,385.5 1509.5,394.9 1510.3,406.4 1511.0,420.7 1511.8,438.3 1512.5,460.8 1513.3,490.3 1514.0,532.0 1514.8,600.6 1515.5,807.5 1516.3,460.8 1517.0,373.6 1517.8,325.0 1518.5,294.4 1519.3,275.2 1520.0,264.5 1520.8,261.0 1521.6,261.3 1522.4,262.0 1523.2,263.3 1524.0,265.2 1524.7,267.5 1525.5,270.5 1526.3,274.0 1527.1,278.2 1527.9,283.0 1528.7,288.6 1529.5,294.9 1530.3,302.1 1531.0,310.2 1531.8,319.4 1532.6,329.9 1533.4,341.8 1534.2,355.4 1535.0,371.1 1535.8,389.6 1536.6,411.6 1537.3,438.6 1538.1,473.1 1538.9,520.5 1539.7,595.5 1540.5,784.0 1541.3,458.3 1542.1,376.3 1542.9,330.7 1543.6,301.9 1544.4,283.8 1545.2,273.7 1546.0,270.5 1546.8,273.0 1547.5,280.2 1548.3,291.8 1549.1,307.1 1549.8,325.2 1550.6,345.0 1551.4,365.5 1552.2,385.3 1552.9,403.4 1553.7,418.7 1554.5,430.3 1555.2,437.5 1556.0,440.0 1556.7,437.9 1557.4,432.2 1558.1,423.9 1558.9,414.6 1559.6,406.3 1560.3,400.6 1561.0,398.5 1561.8,399.6 1562.5,402.9 1563.3,408.6 1564.1,417.0 1564.9,428.8 1565.7,444.8 1566.4,467.0 1567.2,499.7 1568.0,555.5 1568.8,750.0 1569.5,451.7 1570.2,372.8 1570.9,327.9 1571.6,298.5 1572.3,278.7 1573.0,265.7 1573.7,258.4 1574.4,256.0 1575.2,256.3 1575.9,257.1 1576.7,258.5 1577.5,260.4 1578.3,262.9 1579.0,266.1 1579.8,269.8 1580.6,274.3 1581.4,279.6 1582.1,285.7 1582.9,292.7 1583.7,300.8 1584.4,310.1 1585.2,320.9 1586.0,333.5 1586.8,348.4 1587.5,366.2 1588.3,388.2 1589.1,416.5 1589.9,455.6 1590.6,518.1 1591.4,682.5 1592.2,435.3 1592.9,366.9 1593.7,327.4 1594.4,301.0 1595.2,282.4 1595.9,269.3 1596.7,260.6 1597.4,255.6 1598.2,254.0 1599.0,255.4 1599.8,259.6 1600.6,266.5 1601.4,275.8 1602.2,287.2 1603.0,300.5 1603.8,315.2 1604.6,330.9 1605.3,347.0 1606.1,363.1 1606.9,378.8 1607.7,393.5 1608.5,406.8 1609.3,418.2 1610.1,427.5 1610.9,434.4 1611.7,438.6 1612.5,440.0 1613.3,436.1 1614.1,424.8 1614.8,407.5 1615.6,386.3 1616.4,363.7 1617.2,342.5 1617.9,325.2 1618.7,313.9 1619.5,310.0 1620.2,312.9 1620.9,322.0 1621.6,338.2 1622.4,364.1 1623.1,405.1 1623.8,478.7 1624.5,771.5 1625.2,491.7 1626.0,436.5 1626.8,412.2 1627.5,405.0 1628.3,408.2 1629.0,416.4 1629.8,426.6 1630.5,434.8 1631.3,438.0 1632.1,435.0 1632.9,426.2 1633.7,412.2 1634.5,393.6 1635.3,371.7 1636.1,347.6 1636.8,322.9 1637.6,298.8 1638.4,276.9 1639.2,258.3 1640.0,244.3 1640.8,235.5 1641.6,232.5 1642.4,233.8 1643.1,237.8 1643.9,244.7 1644.7,254.8 1645.4,269.0 1646.2,288.3 1647.0,315.2 1647.7,354.6 1648.5,421.9 1649.2,656.5 1650.0,494.7 1650.8,456.4 1651.6,435.8 1652.4,423.6 1653.2,417.1 1654.0,415.0 1654.7,416.1 1655.4,419.3 1656.1,423.9 1656.9,429.1 1657.6,433.7 1658.3,436.9 1659.0,438.0 1659.8,435.3 1660.6,427.5 1661.3,415.5 1662.1,400.8 1662.9,385.2 1663.7,370.5 1664.4,358.5 1665.2,350.7 1666.0,348.0 1666.7,354.5 1667.5,376.6 1668.2,426.5 1668.9,680.0 1669.7,455.5 1670.5,411.3 1671.2,391.8 1672.0,386.0 1672.8,409.5 1673.5,433.0 1674.2,456.5 1675.0,480.0 1675.6,491.2 1676.2,502.5 1676.9,513.8 1677.5,525.0"/>
<polyline class="d" stroke="#edb120"  points="944.2,31.0 945.1,32.2 945.9,33.5 946.7,34.8 947.5,36.0 948.2,38.5 949.0,41.0 949.8,43.5 950.5,46.0 951.4,50.7 952.4,55.3 953.3,60.0 954.2,65.0 955.1,70.0 956.0,75.0 956.7,81.7 957.3,88.3 958.0,95.0 958.7,103.3 959.3,111.7 960.0,120.0 960.9,130.2 961.8,140.5 962.7,150.7 963.4,155.1 964.0,159.6 964.7,164.0 965.5,167.3 966.4,170.7 967.2,174.0 968.0,177.3 968.8,180.5 969.6,183.7 970.5,186.8 971.3,190.0 972.2,189.0 973.1,188.0 974.1,187.0 975.0,186.0 975.8,185.3 976.5,184.7 977.3,184.0 978.0,177.3 978.7,170.7 979.5,168.3 980.3,165.9 981.1,163.5 981.9,161.1 982.7,158.7 983.5,151.7 984.4,144.7 985.2,137.7 986.0,130.7 986.9,126.2 987.8,121.6 988.7,117.1 989.6,112.5 990.5,108.0 991.4,109.6 992.3,111.3 993.2,112.9 994.1,114.5 995.1,116.2 996.0,117.8 996.9,119.4 997.8,121.1 998.7,122.7 999.5,125.9 1000.4,129.0 1001.2,132.2 1002.0,135.3 1002.9,138.6 1003.8,142.0 1004.7,145.3 1005.6,148.7 1006.6,152.0 1007.5,155.3 1008.4,158.7 1009.3,162.0 1010.2,164.4 1011.2,166.8 1012.1,169.2 1013.1,171.6 1014.0,174.0 1014.9,172.5 1015.7,170.9 1016.6,169.4 1017.4,167.9 1018.3,166.4 1019.1,164.8 1020.0,163.3 1021.0,159.6 1021.9,155.9 1022.9,152.2 1023.8,148.4 1024.8,144.7 1025.7,141.0 1026.7,137.3 1027.6,133.0 1028.5,128.6 1029.3,124.3 1030.2,120.0 1031.1,115.6 1032.0,111.3 1033.0,110.6 1033.9,109.8 1034.9,109.1 1035.9,108.4 1036.8,107.6 1037.8,106.9 1038.8,106.2 1039.7,105.4 1040.7,104.7 1041.6,107.4 1042.5,110.0 1043.5,112.7 1044.4,115.3 1045.3,118.0 1046.2,120.6 1047.2,123.2 1048.1,125.8 1049.1,128.4 1050.0,131.0 1050.9,133.6 1051.9,136.2 1052.8,138.8 1053.8,141.4 1054.7,144.0 1055.6,145.2 1056.5,146.3 1057.4,147.5 1058.3,148.7 1059.3,149.8 1060.2,151.0 1061.1,152.1 1062.0,153.3 1062.9,153.0 1063.9,152.0 1064.8,150.4 1065.8,148.3 1066.7,145.6 1067.6,142.6 1068.6,139.3 1069.5,135.8 1070.5,132.2 1071.4,128.7 1072.4,125.4 1073.3,122.4 1074.2,119.7 1075.2,117.6 1076.1,116.0 1077.1,115.0 1078.0,114.7 1078.9,115.7 1079.8,116.7 1080.7,117.7 1081.7,118.7 1082.6,119.7 1083.5,120.7 1084.4,121.7 1085.3,122.7 1086.2,127.4 1087.1,132.0 1088.0,136.7 1088.9,141.4 1089.8,146.0 1090.7,150.7 1091.5,155.8 1092.3,160.8 1093.1,165.9 1093.9,170.9 1094.7,176.0 1095.6,178.5 1096.6,180.9 1097.5,183.4 1098.5,185.9 1099.4,188.4 1100.4,190.8 1101.3,193.3 1102.3,191.5 1103.2,189.7 1104.2,187.9 1105.1,186.1 1106.1,184.3 1107.0,182.5 1108.0,180.7 1108.9,178.0 1109.9,175.3 1110.8,172.7 1111.8,170.0 1112.7,167.3 1113.5,162.2 1114.3,157.2 1115.1,152.1 1115.9,147.1 1116.7,142.0 1117.6,138.1 1118.6,134.2 1119.5,130.3 1120.5,126.4 1121.4,122.5 1122.4,118.6 1123.3,114.7 1124.2,113.0 1125.0,111.3 1125.9,109.6 1126.7,107.8 1127.6,106.1 1128.4,104.4 1129.3,102.7 1130.2,104.5 1131.1,106.2 1132.0,108.0 1132.9,109.8 1133.8,111.5 1134.7,113.3 1135.5,118.6 1136.3,124.0 1137.1,129.3 1137.9,134.7 1138.7,140.0 1139.3,153.3 1140.0,166.7 1140.7,175.6 1141.3,184.4 1142.0,193.3 1142.9,207.1 1143.8,220.9 1144.7,234.7 1145.6,266.5 1146.6,298.2 1147.5,330.0 1148.2,356.7 1148.8,383.3 1149.5,410.0 1150.1,437.2 1150.8,464.5 1151.6,437.2 1152.5,410.0 1153.4,390.0 1154.2,370.0 1155.1,350.0 1156.0,330.0 1156.8,320.7 1157.6,311.3 1158.4,302.0 1159.2,292.6 1160.0,283.3 1160.8,278.6 1161.7,273.9 1162.5,269.1 1163.3,264.4 1164.2,259.7 1165.0,255.0 1165.8,248.8 1166.7,242.5 1167.5,236.2 1168.3,230.0 1169.1,221.1 1170.0,212.2 1170.8,203.3 1171.6,193.9 1172.5,184.4 1173.3,175.0 1174.2,168.8 1175.0,162.5 1175.8,156.2 1176.7,150.0 1177.7,145.7 1178.6,141.4 1179.6,137.1 1180.6,132.8 1181.5,128.5 1182.5,124.2 1183.4,123.1 1184.3,122.0 1185.3,120.9 1186.2,119.8 1187.1,118.6 1188.0,117.5 1189.0,116.4 1189.9,115.3 1190.8,114.2 1191.7,114.3 1192.7,114.6 1193.6,115.2 1194.6,115.9 1195.5,116.7 1196.5,117.7 1197.4,118.7 1198.4,119.7 1199.3,120.7 1200.3,121.7 1201.2,122.5 1202.2,123.2 1203.1,123.8 1204.1,124.1 1205.0,124.2 1205.9,124.0 1206.9,123.5 1207.8,122.7 1208.8,121.6 1209.7,120.3 1210.6,118.8 1211.6,117.2 1212.5,115.5 1213.4,113.7 1214.4,112.1 1215.3,110.6 1216.2,109.3 1217.2,108.2 1218.1,107.4 1219.1,106.9 1220.0,106.7 1220.9,108.5 1221.9,110.2 1222.8,112.0 1223.8,113.8 1224.7,115.5 1225.6,117.3 1226.6,119.0 1227.5,120.8 1228.5,125.1 1229.4,129.4 1230.4,133.8 1231.4,138.1 1232.3,142.4 1233.3,146.7 1234.2,148.8 1235.1,150.9 1236.0,153.1 1236.9,155.2 1237.8,157.3 1238.8,159.4 1239.7,161.5 1240.6,163.6 1241.5,165.8 1242.4,167.9 1243.3,170.0 1244.3,169.9 1245.3,169.7 1246.3,169.2 1247.2,168.7 1248.2,168.0 1249.2,167.1 1250.2,166.2 1251.2,165.1 1252.2,164.0 1253.2,162.8 1254.2,161.7 1255.1,160.5 1256.1,159.3 1257.1,158.2 1258.1,157.1 1259.1,156.2 1260.1,155.3 1261.1,154.6 1262.0,154.1 1263.0,153.6 1264.0,153.4 1265.0,153.3 1265.9,153.6 1266.9,154.5 1267.8,155.9 1268.8,157.8 1269.7,160.2 1270.7,162.8 1271.6,165.6 1272.6,168.5 1273.5,171.3 1274.5,173.9 1275.4,176.3 1276.4,178.2 1277.3,179.6 1278.3,180.5 1279.2,180.8 1280.1,176.6 1281.1,172.5 1282.0,168.3 1283.0,164.2 1283.9,160.0 1284.9,155.9 1285.8,151.7 1286.7,145.0 1287.5,138.3 1288.3,131.7 1289.2,125.0 1290.2,123.4 1291.2,121.8 1292.2,120.2 1293.1,118.6 1294.1,117.0 1295.1,115.4 1296.1,113.8 1297.1,112.1 1298.1,110.5 1299.1,108.9 1300.0,107.3 1301.0,105.7 1302.0,104.1 1303.0,102.5 1304.0,103.2 1305.0,103.8 1306.0,104.5 1306.9,105.1 1307.9,105.8 1308.9,106.4 1309.9,107.1 1310.9,107.8 1311.9,108.4 1312.8,109.1 1313.8,109.7 1314.8,110.4 1315.8,111.1 1316.8,111.7 1317.8,112.4 1318.7,113.0 1319.7,113.7 1320.7,114.3 1321.7,115.0 1322.7,119.2 1323.6,123.3 1324.6,127.5 1325.6,131.7 1326.5,135.8 1327.5,140.0 1328.4,140.6 1329.4,141.2 1330.3,141.9 1331.2,142.5 1332.2,143.1 1333.1,143.8 1334.1,144.4 1335.0,145.0 1336.0,143.2 1336.9,141.4 1337.9,139.6 1338.8,137.9 1339.8,136.1 1340.7,134.3 1341.7,132.5 1342.7,132.5 1343.6,132.4 1344.6,132.4 1345.5,132.3 1346.5,132.3 1347.4,132.3 1348.4,132.2 1349.3,132.2 1350.3,132.1 1351.2,132.1 1352.2,132.1 1353.2,132.0 1354.1,132.0 1355.1,131.9 1356.0,131.9 1357.0,131.9 1357.9,131.8 1358.9,131.8 1359.8,131.7 1360.8,131.7 1361.6,129.2 1362.5,126.7 1363.3,124.2 1364.2,121.7 1365.0,119.2 1366.0,118.0 1366.9,116.7 1367.9,115.5 1368.8,114.2 1369.8,113.0 1370.8,111.7 1371.7,110.5 1372.7,109.2 1373.7,108.0 1374.6,106.7 1375.6,105.5 1376.5,104.2 1377.5,103.0 1378.4,105.5 1379.3,107.9 1380.2,110.4 1381.1,112.8 1382.0,115.3 1383.0,117.7 1383.9,120.2 1384.8,122.6 1385.7,125.1 1386.6,127.5 1387.5,130.0 1388.3,136.7 1389.2,143.3 1390.0,150.0 1390.8,156.7 1391.6,165.6 1392.5,174.4 1393.3,183.3 1394.1,191.3 1395.0,199.3 1395.8,207.3 1396.7,215.3 1397.5,223.3 1398.3,232.2 1399.2,241.1 1400.0,250.0 1400.8,258.9 1401.7,267.8 1402.5,276.7 1403.4,291.4 1404.3,306.0 1405.2,320.7 1406.1,335.3 1407.0,350.0 1407.9,367.5 1408.8,385.0 1409.6,402.5 1410.5,420.0 1411.2,430.3 1411.8,440.7 1412.5,451.0 1413.2,435.5 1413.8,420.0 1414.7,400.0 1415.5,380.0 1416.1,365.0 1416.7,350.0 1417.1,325.0 1417.5,300.0 1417.9,275.0 1418.3,250.0 1419.2,241.7 1420.0,233.3 1420.8,223.9 1421.7,214.4 1422.5,205.0 1423.3,197.9 1424.2,190.8 1425.0,183.8 1425.8,176.7 1426.7,156.7 1427.5,136.7 1428.3,130.8 1429.2,125.0 1430.1,123.1 1431.0,121.3 1432.0,119.4 1432.9,117.6 1433.8,115.7 1434.7,113.9 1435.7,112.0 1436.6,110.2 1437.5,108.3 1438.3,111.8 1439.2,115.4 1440.0,119.0 1440.8,122.5 1441.6,127.2 1442.5,131.9 1443.3,136.7 1444.1,141.4 1445.0,146.1 1445.8,150.8 1446.8,161.8 1447.8,172.8 1448.8,183.8 1449.7,194.7 1450.7,205.7 1451.7,216.7 1452.5,221.1 1453.4,225.6 1454.2,230.0 1455.0,234.4 1455.9,238.9 1456.7,243.3 1457.6,239.5 1458.6,235.7 1459.5,231.9 1460.5,228.1 1461.4,224.3 1462.4,220.5 1463.3,216.7 1464.1,209.8 1465.0,202.8 1465.8,195.8 1466.6,188.9 1467.5,181.9 1468.3,175.0 1469.1,168.3 1470.0,161.7 1470.8,155.0 1471.6,148.3 1472.5,141.7 1473.3,135.0 1474.2,133.4 1475.1,131.8 1476.0,130.2 1476.9,128.6 1477.8,127.0 1478.8,125.5 1479.7,123.9 1480.6,122.3 1481.5,120.7 1482.4,119.1 1483.3,117.5 1484.3,121.4 1485.2,125.4 1486.2,129.3 1487.1,133.2 1488.1,137.1 1489.0,141.1 1490.0,145.0 1490.8,153.0 1491.7,161.0 1492.5,169.0 1493.4,177.0 1494.2,185.0 1495.1,188.5 1496.0,192.0 1496.9,195.5 1497.8,199.0 1498.8,202.5 1499.7,206.0 1500.6,209.5 1501.5,213.0 1502.4,216.5 1503.3,220.0 1504.3,224.0 1505.2,228.1 1506.2,232.1 1507.1,236.2 1508.1,240.2 1509.0,244.3 1510.0,248.3 1510.8,263.7 1511.5,279.1 1512.2,294.6 1513.0,310.0 1513.8,324.0 1514.6,338.0 1515.4,352.0 1516.2,366.0 1517.0,380.0 1518.0,378.6 1519.0,374.3 1519.9,367.3 1520.9,358.1 1521.9,346.9 1522.9,334.2 1523.9,320.7 1524.8,306.8 1525.8,293.3 1526.8,280.6 1527.8,269.4 1528.8,260.2 1529.7,253.2 1530.7,248.9 1531.7,247.5 1532.7,247.6 1533.7,248.0 1534.7,248.6 1535.7,249.4 1536.6,250.5 1537.6,251.9 1538.6,253.6 1539.6,255.7 1540.6,258.2 1541.6,261.2 1542.6,264.9 1543.6,269.3 1544.5,274.9 1545.5,282.2 1546.5,292.4 1547.5,309.0 1548.5,357.0 1549.5,348.9 1550.4,340.9 1551.4,332.8 1552.3,324.8 1553.3,316.7 1554.1,300.0 1555.0,283.4 1555.8,266.7 1556.7,258.4 1557.5,250.0 1558.3,236.7 1559.2,223.3 1560.0,210.0 1560.8,203.3 1561.7,196.7 1562.5,190.0 1563.3,183.3 1564.2,176.7 1565.0,170.0 1565.8,167.0 1566.7,164.0 1567.5,161.0 1568.4,158.0 1569.2,155.0 1570.1,157.5 1571.1,160.0 1572.0,162.5 1573.0,165.0 1573.9,167.5 1574.8,170.0 1575.8,172.5 1576.7,175.0 1577.5,183.0 1578.3,191.0 1579.2,199.0 1580.0,207.0 1580.8,215.0 1581.7,225.0 1582.5,235.0 1583.3,245.0 1584.2,255.0 1584.6,277.5 1585.0,300.0 1585.8,333.3 1586.7,366.7 1587.5,400.0 1588.3,418.9 1589.2,437.9 1590.0,456.8 1590.8,475.7 1591.7,483.1 1592.5,490.5 1593.4,497.9 1594.3,505.2 1595.1,512.6 1596.0,520.0 1596.9,525.8 1597.8,531.7 1598.8,537.5 1599.1,506.6 1599.4,475.7 1600.1,437.9 1600.8,400.0 1601.7,350.0 1602.5,300.0 1602.9,275.0 1603.3,250.0 1604.2,240.0 1605.2,230.0 1606.1,220.0 1607.1,210.0 1608.0,200.0 1608.8,190.0 1609.5,180.0 1610.2,170.0 1611.0,160.0 1611.8,153.2 1612.5,146.5 1613.2,139.8 1614.0,133.0 1614.9,129.8 1615.8,126.5 1616.6,123.2 1617.5,120.0 1618.4,116.8 1619.2,113.5 1620.1,110.2 1621.0,107.0 1621.9,109.4 1622.8,111.9 1623.7,114.3 1624.6,116.8 1625.4,119.2 1626.3,121.7 1627.2,124.1 1628.1,126.6 1629.0,129.0 1629.8,135.8 1630.7,142.7 1631.5,149.5 1632.3,156.3 1633.2,163.2 1634.0,170.0 1634.8,178.0 1635.6,186.0 1636.4,194.0 1637.2,202.0 1638.0,210.0 1638.9,215.3 1639.8,220.7 1640.7,226.0 1641.6,231.4 1642.5,236.7 1643.3,242.0 1644.2,247.3 1645.0,252.7 1645.9,258.0 1646.7,263.3 1647.6,260.9 1648.5,258.5 1649.5,256.1 1650.4,253.7 1651.3,251.3 1652.2,248.9 1653.2,246.5 1654.1,244.1 1655.0,241.7 1655.8,235.0 1656.7,228.3 1657.5,221.7 1658.3,215.0 1659.1,206.1 1660.0,197.2 1660.8,188.3 1661.7,186.0 1662.7,183.7 1663.6,181.4 1664.5,179.2 1665.5,176.9 1666.4,174.6 1667.4,172.3 1668.3,170.0 1669.3,174.4 1670.3,178.9 1671.2,183.3 1672.2,187.8 1673.2,192.2 1674.2,196.7 1675.0,205.0 1675.9,213.4 1676.7,221.7"/>
<polyline class="d" stroke="#7e2f8e"  points="944.2,31.0 945.1,32.2 945.9,33.5 946.7,34.8 947.5,36.0 948.2,38.5 949.0,41.0 949.8,43.5 950.5,46.0 951.4,50.7 952.4,55.3 953.3,60.0 954.2,63.8 955.1,67.5 956.0,71.3 956.7,76.9 957.3,82.4 958.0,88.0 958.8,92.2 959.5,96.5 960.2,100.8 961.0,105.0 961.9,109.2 962.8,113.5 963.6,117.8 964.5,122.0 965.4,124.8 966.3,127.6 967.2,130.4 968.1,133.2 969.0,136.0 970.0,137.8 970.9,139.6 971.9,141.3 972.8,143.1 973.8,144.9 974.7,146.7 975.7,146.4 976.6,145.5 977.6,144.0 978.5,142.0 979.5,139.6 980.5,136.7 981.4,133.5 982.4,130.2 983.4,126.7 984.3,123.2 985.3,119.9 986.2,116.7 987.2,113.8 988.2,111.4 989.1,109.4 990.1,107.9 991.0,107.0 992.0,106.7 993.0,108.3 993.9,109.8 994.9,111.4 995.9,112.9 996.8,114.5 997.8,116.0 998.8,117.6 999.7,119.1 1000.7,120.7 1001.7,121.5 1002.6,122.3 1003.6,123.1 1004.5,123.9 1005.5,124.8 1006.4,125.6 1007.4,126.4 1008.3,127.2 1009.3,128.0 1010.2,128.3 1011.2,128.6 1012.1,128.9 1013.1,129.2 1014.0,129.5 1014.9,129.8 1015.9,130.1 1016.8,130.4 1017.8,130.7 1018.7,131.0 1019.6,134.4 1020.6,137.8 1021.5,141.2 1022.5,144.5 1023.4,147.9 1024.4,151.3 1025.3,154.7 1026.2,155.9 1027.2,157.1 1028.1,158.3 1029.0,159.5 1030.0,160.7 1030.9,161.9 1031.8,163.1 1032.8,164.3 1033.7,165.5 1034.6,166.7 1035.6,167.9 1036.5,169.1 1037.4,170.3 1038.4,171.5 1039.3,172.7 1040.2,170.5 1041.1,168.2 1042.0,166.0 1042.9,163.7 1043.8,161.5 1044.8,159.2 1045.7,157.0 1046.6,154.7 1047.5,152.5 1048.4,150.2 1049.3,148.0 1050.1,142.9 1050.9,137.9 1051.7,132.8 1052.5,127.8 1053.3,122.7 1054.2,120.6 1055.1,118.4 1056.1,116.3 1057.0,114.1 1057.9,112.0 1058.8,109.9 1059.7,107.7 1060.7,105.6 1061.6,103.4 1062.5,101.3 1063.4,105.3 1064.3,109.3 1065.2,113.3 1066.0,117.3 1066.9,121.3 1067.8,125.3 1068.7,129.3 1069.6,138.4 1070.4,147.6 1071.3,156.7 1072.0,165.8 1072.6,174.9 1073.3,184.0 1074.0,197.8 1074.6,211.5 1075.3,225.3 1076.2,246.2 1077.2,267.2 1078.1,288.1 1079.1,309.1 1080.0,330.0 1080.8,348.0 1081.6,366.0 1082.4,384.0 1083.2,402.0 1084.0,420.0 1084.8,440.0 1085.5,460.0 1086.2,480.0 1087.0,500.0 1087.9,520.5 1088.8,541.0 1089.6,520.5 1090.5,500.0 1091.2,473.3 1091.8,446.7 1092.5,420.0 1093.3,390.0 1094.2,360.0 1095.0,330.0 1095.8,305.2 1096.5,280.4 1097.2,255.5 1098.0,230.7 1098.7,216.7 1099.3,202.7 1100.0,189.3 1100.7,176.0 1101.6,167.1 1102.4,158.2 1103.3,149.3 1104.0,144.9 1104.6,140.4 1105.3,136.0 1106.3,133.7 1107.2,131.4 1108.2,129.1 1109.1,126.9 1110.1,124.6 1111.0,122.3 1112.0,120.0 1112.9,120.3 1113.9,121.2 1114.8,122.7 1115.8,124.8 1116.7,127.3 1117.6,130.2 1118.6,133.3 1119.5,136.7 1120.5,140.0 1121.4,143.4 1122.4,146.5 1123.3,149.4 1124.2,151.9 1125.2,154.0 1126.1,155.5 1127.1,156.4 1128.0,156.7 1128.9,156.3 1129.8,155.1 1130.8,153.2 1131.7,150.7 1132.6,147.7 1133.5,144.4 1134.5,141.0 1135.4,137.7 1136.3,134.7 1137.2,132.2 1138.2,130.3 1139.1,129.1 1140.0,128.7 1141.0,128.9 1141.9,129.5 1142.9,130.5 1143.8,131.9 1144.8,133.5 1145.7,135.5 1146.7,137.8 1147.6,140.2 1148.6,142.8 1149.5,145.5 1150.5,148.2 1151.4,150.9 1152.4,153.5 1153.3,155.9 1154.3,158.2 1155.2,160.2 1156.2,161.8 1157.1,163.2 1158.1,164.2 1159.0,164.8 1160.0,165.0 1161.0,164.7 1162.0,163.6 1163.0,161.9 1164.0,159.6 1165.0,156.8 1165.9,153.4 1166.9,149.6 1167.9,145.4 1168.9,141.0 1169.9,136.5 1170.9,131.8 1171.9,127.3 1172.9,122.9 1173.9,118.7 1174.9,114.9 1175.8,111.5 1176.8,108.7 1177.8,106.4 1178.8,104.7 1179.8,103.6 1180.8,103.3 1181.8,103.8 1182.8,105.2 1183.7,107.5 1184.7,110.7 1185.7,114.7 1186.7,119.4 1187.6,124.8 1188.6,130.8 1189.6,137.1 1190.6,143.8 1191.6,150.7 1192.5,157.6 1193.5,164.5 1194.5,171.2 1195.5,177.5 1196.5,183.5 1197.4,188.9 1198.4,193.6 1199.4,197.6 1200.4,200.8 1201.3,203.1 1202.3,204.5 1203.3,205.0 1204.3,204.5 1205.3,203.0 1206.3,200.6 1207.2,197.3 1208.2,193.2 1209.2,188.3 1210.2,182.8 1211.2,176.7 1212.2,170.3 1213.2,163.5 1214.2,156.7 1215.1,149.8 1216.1,143.0 1217.1,136.6 1218.1,130.5 1219.1,125.0 1220.1,120.1 1221.1,116.0 1222.0,112.7 1223.0,110.3 1224.0,108.8 1225.0,108.3 1226.0,108.5 1226.9,109.1 1227.9,110.1 1228.9,111.5 1229.8,113.1 1230.8,115.1 1231.7,117.3 1232.7,119.6 1233.7,122.1 1234.6,124.5 1235.6,127.0 1236.6,129.3 1237.5,131.5 1238.5,133.5 1239.4,135.1 1240.4,136.5 1241.4,137.5 1242.3,138.1 1243.3,138.3 1244.3,137.8 1245.2,136.4 1246.2,134.2 1247.1,131.2 1248.1,127.7 1249.0,123.7 1250.0,119.6 1251.0,115.4 1251.9,111.4 1252.9,107.9 1253.8,104.9 1254.8,102.7 1255.7,101.3 1256.7,100.8 1257.7,101.2 1258.6,102.3 1259.6,104.2 1260.5,106.9 1261.5,110.2 1262.5,114.1 1263.4,118.6 1264.4,123.7 1265.4,129.1 1266.3,135.0 1267.3,141.1 1268.2,147.4 1269.2,153.8 1270.2,160.1 1271.1,166.4 1272.1,172.5 1273.0,178.4 1274.0,183.8 1275.0,188.9 1275.9,193.4 1276.9,197.3 1277.9,200.6 1278.8,203.3 1279.8,205.2 1280.7,206.3 1281.7,206.7 1282.6,206.0 1283.5,205.4 1284.5,204.7 1285.4,204.1 1286.3,203.4 1287.2,202.8 1288.2,202.1 1289.1,201.5 1290.0,200.8 1291.0,199.0 1291.9,197.2 1292.9,195.4 1293.8,193.7 1294.8,191.9 1295.7,190.1 1296.7,188.3 1297.6,185.3 1298.5,182.4 1299.5,179.4 1300.4,176.5 1301.3,173.5 1302.2,170.6 1303.2,167.6 1304.1,164.7 1305.0,161.7 1305.9,160.0 1306.7,158.4 1307.6,156.7 1308.4,155.0 1309.3,153.3 1310.1,151.7 1311.0,150.0 1311.9,150.1 1312.8,150.6 1313.7,151.2 1314.6,152.0 1315.5,152.9 1316.4,153.8 1317.3,154.6 1318.2,155.2 1319.1,155.7 1320.0,155.8 1321.0,155.1 1321.9,154.4 1322.9,153.7 1323.8,152.9 1324.8,152.2 1325.7,151.5 1326.7,150.8 1327.5,148.7 1328.4,146.6 1329.2,144.6 1330.0,142.5 1330.9,140.4 1331.7,138.3 1332.5,133.9 1333.4,129.5 1334.2,125.2 1335.0,120.8 1335.9,116.4 1336.7,112.0 1337.6,111.4 1338.5,110.7 1339.4,110.1 1340.3,109.4 1341.2,108.8 1342.1,108.1 1343.0,107.5 1344.0,107.8 1344.9,108.7 1345.9,110.2 1346.9,112.3 1347.8,114.8 1348.8,117.9 1349.8,121.2 1350.7,125.0 1351.7,128.9 1352.7,132.9 1353.6,137.1 1354.6,141.1 1355.6,145.0 1356.5,148.8 1357.5,152.1 1358.5,155.2 1359.4,157.7 1360.4,159.8 1361.4,161.3 1362.3,162.2 1363.3,162.5 1364.3,161.9 1365.3,160.3 1366.3,157.5 1367.3,153.9 1368.3,149.4 1369.3,144.4 1370.3,138.8 1371.2,133.1 1372.2,127.4 1373.2,121.8 1374.2,116.8 1375.2,112.3 1376.2,108.7 1377.2,105.9 1378.2,104.3 1379.2,103.7 1380.1,104.6 1381.1,105.5 1382.0,106.4 1383.0,107.3 1383.9,108.2 1384.9,109.1 1385.8,110.0 1386.6,114.5 1387.5,118.9 1388.3,123.3 1389.1,127.8 1390.0,132.2 1390.8,136.7 1391.6,144.7 1392.5,152.7 1393.3,160.7 1394.2,168.7 1395.0,176.7 1395.8,184.7 1396.7,192.7 1397.5,200.7 1398.4,208.7 1399.2,216.7 1400.0,223.4 1400.9,230.0 1401.7,236.7 1402.5,243.4 1403.4,250.0 1404.2,256.7 1405.1,260.8 1406.0,264.9 1406.9,269.0 1407.9,263.9 1408.8,258.7 1409.8,253.6 1410.7,248.4 1411.7,243.3 1412.5,230.0 1413.4,216.6 1414.2,203.3 1415.0,192.9 1415.8,182.5 1416.7,172.1 1417.5,161.7 1418.3,155.0 1419.2,148.3 1420.0,141.7 1420.8,135.0 1421.6,130.6 1422.5,126.1 1423.3,121.7 1424.2,119.9 1425.1,118.0 1426.0,116.2 1426.9,114.3 1427.8,112.5 1428.7,110.7 1429.6,108.8 1430.5,107.0 1431.5,107.2 1432.4,108.0 1433.4,109.1 1434.4,110.7 1435.3,112.6 1436.3,114.7 1437.3,117.1 1438.2,119.5 1439.2,121.9 1440.2,124.3 1441.2,126.4 1442.1,128.3 1443.1,129.9 1444.1,131.0 1445.0,131.8 1446.0,132.0 1446.9,131.8 1447.8,131.3 1448.7,130.6 1449.6,129.6 1450.6,128.7 1451.5,127.7 1452.4,127.0 1453.3,126.5 1454.2,126.3 1455.2,128.4 1456.1,130.6 1457.1,132.8 1458.1,134.9 1459.0,137.0 1460.0,139.2 1460.8,145.8 1461.7,152.5 1462.5,159.2 1463.3,165.8 1464.2,176.0 1465.0,186.2 1465.8,196.5 1466.7,206.7 1467.5,220.0 1468.3,233.3 1469.2,246.7 1470.0,260.0 1470.8,273.3 1471.5,298.9 1472.3,324.4 1473.0,350.0 1473.8,392.0 1474.7,434.0 1475.5,476.0 1476.2,507.0 1477.0,538.0 1477.8,569.0 1478.5,600.0 1479.3,646.7 1480.2,693.3 1481.0,740.0 1481.8,816.0 1482.5,892.0 1483.2,816.0 1484.0,740.0 1484.5,670.0 1485.0,600.0 1485.5,538.0 1486.0,476.0 1486.8,434.0 1487.7,392.0 1488.5,350.0 1489.3,326.7 1490.2,303.3 1491.0,280.0 1491.9,266.2 1492.8,252.5 1493.6,238.8 1494.5,225.0 1495.4,219.7 1496.3,214.4 1497.2,209.2 1498.2,203.9 1499.1,198.6 1500.0,193.3 1501.0,196.6 1501.9,200.0 1502.9,203.3 1503.9,206.6 1504.8,210.0 1505.8,213.3 1506.7,216.7 1507.5,220.0 1508.3,223.3 1509.2,226.7 1509.8,246.7 1510.3,266.7 1510.7,283.4 1511.0,300.0 1511.9,325.0 1512.8,350.0 1513.8,359.5 1514.8,369.0 1515.7,378.5 1516.7,388.0 1517.6,383.7 1518.6,371.8 1519.5,354.5 1520.5,335.2 1521.4,317.9 1522.4,306.0 1523.3,301.7 1524.2,303.0 1525.2,307.1 1526.1,314.0 1527.1,324.0 1528.0,337.9 1529.0,356.3 1530.0,380.8 1530.9,414.2 1531.8,462.8 1532.8,544.9 1533.8,821.3 1534.7,727.0 1535.7,632.8 1536.6,538.5 1537.5,444.3 1538.5,350.0 1539.3,316.7 1540.0,283.3 1540.8,250.0 1541.7,220.0 1542.5,190.0 1543.3,184.3 1544.2,178.7 1545.0,173.0 1545.9,167.4 1546.7,161.7 1547.5,161.0 1548.4,160.3 1549.2,159.6 1550.0,158.9 1550.9,158.2 1551.7,157.5 1552.6,158.2 1553.5,160.1 1554.4,163.2 1555.3,167.0 1556.2,171.2 1557.2,175.5 1558.1,179.3 1559.0,182.4 1559.9,184.3 1560.8,185.0 1561.7,184.1 1562.6,181.3 1563.6,177.1 1564.5,171.8 1565.4,165.8 1566.3,159.9 1567.2,154.6 1568.2,150.4 1569.1,147.6 1570.0,146.7 1570.9,148.7 1571.8,150.7 1572.8,152.7 1573.7,154.7 1574.6,156.7 1575.5,158.7 1576.4,160.7 1577.4,162.7 1578.3,164.7 1579.2,166.7 1580.0,176.7 1580.8,186.7 1581.7,196.7 1582.5,206.7 1583.2,220.0 1583.8,233.4 1584.5,246.7 1585.2,264.5 1585.9,282.2 1586.6,300.0 1587.1,340.0 1587.6,380.0 1587.9,405.0 1588.2,430.0 1588.3,443.0 1588.5,456.0 1588.8,428.0 1589.2,400.0 1589.7,386.0 1590.2,372.0 1590.8,358.5 1591.4,345.0 1592.3,331.5 1593.2,318.0 1594.1,309.0 1595.1,300.0 1596.0,291.0 1596.8,284.4 1597.6,277.8 1598.4,271.1 1599.2,264.5 1600.1,262.2 1601.0,259.9 1601.8,257.6 1602.7,255.3 1603.6,253.0 1604.5,246.2 1605.5,239.5 1606.0,232.8 1606.5,226.0 1607.0,219.3 1607.4,212.6 1607.9,205.9 1608.4,199.2 1609.0,189.6 1609.5,180.0 1610.2,170.0 1610.8,160.0 1611.7,153.3 1612.5,146.7 1613.3,140.0 1614.2,133.3 1615.1,129.9 1616.1,126.4 1617.0,123.0 1618.0,119.6 1618.9,116.1 1619.8,112.7 1620.8,109.2 1621.7,105.8 1622.6,108.7 1623.6,111.6 1624.5,114.6 1625.5,117.5 1626.4,120.4 1627.3,123.3 1628.3,126.3 1629.2,129.2 1630.0,136.0 1630.9,142.8 1631.7,149.6 1632.5,156.4 1633.4,163.2 1634.2,170.0 1635.0,178.0 1635.8,186.0 1636.7,194.0 1637.5,202.0 1638.3,210.0 1639.3,212.1 1640.2,214.3 1641.2,216.4 1642.1,218.6 1643.1,220.7 1644.0,222.9 1645.0,225.0 1645.9,221.7 1646.9,218.3 1647.8,215.0 1648.8,211.7 1649.7,208.3 1650.6,205.0 1651.6,201.6 1652.5,198.3 1653.3,188.7 1654.2,179.2 1655.0,169.6 1655.8,160.0 1656.6,151.1 1657.5,142.2 1658.3,133.3 1659.2,130.9 1660.1,128.5 1661.1,126.1 1662.0,123.7 1662.9,121.2 1663.8,118.8 1664.7,116.4 1665.7,114.0 1666.6,111.6 1667.5,109.2 1668.4,112.1 1669.3,115.0 1670.3,117.9 1671.2,120.8 1672.1,123.8 1673.0,126.7 1673.9,129.6 1674.9,132.5 1675.8,135.4 1676.7,138.3"/>
<polyline class="d" stroke="#77ac30"  points="944.2,31.0 945.1,32.2 945.9,33.5 946.7,34.8 947.5,36.0 948.2,38.5 949.0,41.0 949.8,43.5 950.5,46.0 951.4,50.7 952.4,55.3 953.3,60.0 954.2,63.8 955.1,67.5 956.0,71.3 956.9,77.7 957.7,84.0 958.4,88.7 959.0,93.3 959.7,98.0 960.4,102.3 961.0,106.7 961.7,111.0 962.5,117.5 963.3,124.0 964.0,128.4 964.6,132.9 965.3,137.3 966.0,141.8 966.6,146.2 967.3,150.7 968.1,153.2 968.9,155.7 969.7,158.3 970.5,160.8 971.3,163.3 972.3,163.1 973.2,162.6 974.2,161.9 975.2,160.8 976.1,159.4 977.1,157.8 978.1,156.0 979.1,154.1 980.0,152.1 981.0,150.0 982.0,147.9 982.9,145.9 983.9,144.0 984.9,142.2 985.9,140.6 986.8,139.2 987.8,138.1 988.8,137.4 989.7,136.9 990.7,136.7 991.6,137.2 992.5,138.5 993.4,140.7 994.3,143.5 995.2,146.7 996.2,150.0 997.1,153.2 998.0,156.0 998.9,158.2 999.8,159.5 1000.7,160.0 1001.6,159.7 1002.6,158.7 1003.5,157.1 1004.5,154.9 1005.4,152.1 1006.4,149.0 1007.3,145.4 1008.3,141.6 1009.2,137.7 1010.2,133.6 1011.1,129.7 1012.1,125.9 1013.0,122.3 1014.0,119.2 1014.9,116.4 1015.9,114.2 1016.8,112.6 1017.8,111.6 1018.7,111.3 1019.7,111.4 1020.6,111.7 1021.6,112.1 1022.6,112.7 1023.5,113.4 1024.5,114.4 1025.5,115.4 1026.4,116.6 1027.4,117.9 1028.4,119.3 1029.3,120.7 1030.3,122.3 1031.3,123.9 1032.2,125.5 1033.2,127.1 1034.1,128.7 1035.1,130.3 1036.1,131.9 1037.0,133.3 1038.0,134.7 1039.0,136.0 1039.9,137.2 1040.9,138.2 1041.9,139.2 1042.8,139.9 1043.8,140.5 1044.8,140.9 1045.7,141.2 1046.7,141.3 1047.6,140.7 1048.5,139.0 1049.5,136.3 1050.4,132.7 1051.3,128.4 1052.2,123.7 1053.2,118.9 1054.1,114.2 1055.0,109.9 1055.9,106.3 1056.9,103.6 1057.8,101.9 1058.7,101.3 1059.7,101.6 1060.7,102.3 1061.7,103.6 1062.6,105.4 1063.6,107.6 1064.6,110.3 1065.6,113.3 1066.6,116.7 1067.6,120.5 1068.6,124.5 1069.5,128.7 1070.5,133.0 1071.5,137.4 1072.5,141.9 1073.5,146.3 1074.5,150.6 1075.4,154.8 1076.4,158.8 1077.4,162.6 1078.4,166.0 1079.4,169.0 1080.4,171.7 1081.4,173.9 1082.3,175.7 1083.3,177.0 1084.3,177.7 1085.3,178.0 1086.3,177.6 1087.2,176.4 1088.2,174.5 1089.1,171.9 1090.1,168.6 1091.0,164.8 1092.0,160.4 1092.9,155.7 1093.9,150.7 1094.8,145.5 1095.8,140.2 1096.7,135.0 1097.7,130.0 1098.6,125.3 1099.6,120.9 1100.5,117.1 1101.5,113.8 1102.4,111.2 1103.4,109.3 1104.3,108.1 1105.3,107.7 1106.3,112.5 1107.2,117.2 1108.2,122.0 1109.2,126.7 1110.2,131.5 1111.1,136.2 1112.1,141.0 1113.1,145.7 1114.1,150.5 1115.0,155.2 1116.0,160.0 1116.8,170.0 1117.5,180.0 1118.2,190.0 1119.0,200.0 1119.8,215.0 1120.7,230.0 1121.5,240.0 1122.2,250.0 1123.0,260.0 1123.8,270.0 1124.7,279.2 1125.6,288.5 1126.6,297.8 1127.5,307.0 1128.3,315.7 1129.2,324.3 1130.0,333.0 1130.8,322.2 1131.5,311.5 1132.2,300.8 1133.0,290.0 1133.9,278.8 1134.8,267.5 1135.6,256.2 1136.5,245.0 1137.5,235.2 1138.4,225.4 1139.4,215.6 1140.3,205.8 1141.3,196.0 1142.2,188.0 1143.2,180.0 1144.1,172.0 1145.1,164.0 1146.0,156.0 1146.9,153.5 1147.8,150.9 1148.7,148.4 1149.6,145.8 1150.5,143.3 1151.5,140.7 1152.4,138.2 1153.3,135.6 1154.2,133.1 1155.1,130.5 1156.0,128.0 1156.9,131.2 1157.8,134.4 1158.7,137.6 1159.6,140.8 1160.6,143.9 1161.5,147.1 1162.4,150.3 1163.3,153.5 1164.2,156.7 1165.0,163.3 1165.8,170.0 1166.7,176.7 1167.5,183.3 1168.3,190.0 1169.2,196.7 1170.0,203.3 1170.8,210.0 1171.6,214.3 1172.5,218.6 1173.3,222.9 1174.1,227.2 1175.0,231.5 1175.8,235.8 1176.8,237.4 1177.7,238.9 1178.7,240.5 1179.6,242.0 1180.6,243.6 1181.5,245.1 1182.5,246.7 1183.5,246.0 1184.5,244.1 1185.4,241.0 1186.4,236.9 1187.4,232.2 1188.3,227.1 1189.3,222.0 1190.3,217.3 1191.3,213.2 1192.2,210.1 1193.2,208.2 1194.2,207.5 1195.2,207.9 1196.1,209.1 1197.1,211.0 1198.0,213.4 1199.0,216.4 1200.0,219.6 1200.9,222.9 1201.9,226.1 1202.9,229.1 1203.8,231.5 1204.8,233.4 1205.7,234.6 1206.7,235.0 1207.7,228.2 1208.6,221.3 1209.6,214.5 1210.6,207.7 1211.5,200.8 1212.5,194.0 1213.3,180.7 1214.2,167.3 1215.0,154.0 1215.8,147.2 1216.7,140.3 1217.5,133.5 1218.3,126.7 1219.2,124.0 1220.1,121.4 1221.1,118.7 1222.0,116.0 1222.9,113.3 1223.8,110.7 1224.7,108.0 1225.7,105.3 1226.6,102.7 1227.5,100.0 1228.4,100.2 1229.3,100.8 1230.3,101.7 1231.2,102.9 1232.1,104.1 1233.0,105.4 1233.9,106.6 1234.9,107.5 1235.8,108.1 1236.7,108.3 1237.7,108.3 1238.6,108.2 1239.6,108.0 1240.5,107.8 1241.5,107.6 1242.5,107.3 1243.4,106.9 1244.4,106.5 1245.4,106.1 1246.3,105.6 1247.3,105.1 1248.2,104.7 1249.2,104.2 1250.2,103.6 1251.1,103.2 1252.1,102.7 1253.0,102.2 1254.0,101.8 1255.0,101.4 1255.9,101.0 1256.9,100.7 1257.9,100.5 1258.8,100.3 1259.8,100.1 1260.7,100.0 1261.7,100.0 1262.7,102.0 1263.6,104.0 1264.6,106.0 1265.6,108.0 1266.5,110.0 1267.5,112.0 1268.5,114.0 1269.4,116.0 1270.4,118.0 1271.4,120.0 1272.3,122.0 1273.3,124.0 1274.1,129.4 1275.0,134.7 1275.8,140.1 1276.7,145.4 1277.5,150.8 1278.3,161.0 1279.2,171.2 1280.0,181.5 1280.8,191.7 1281.7,201.7 1282.5,211.7 1283.3,221.7 1284.2,231.7 1285.0,241.7 1285.8,251.7 1286.7,261.7 1287.5,271.7 1288.3,285.4 1289.1,299.0 1289.9,312.7 1290.7,326.3 1291.5,340.0 1292.2,357.5 1293.0,375.0 1293.8,392.5 1294.5,410.0 1295.4,435.5 1296.2,461.0 1297.1,435.5 1298.0,410.0 1298.7,386.7 1299.3,363.3 1300.0,340.0 1300.8,308.4 1301.7,276.7 1302.5,263.4 1303.4,250.0 1304.2,236.7 1305.0,216.2 1305.8,195.8 1306.6,182.2 1307.5,168.6 1308.3,155.0 1309.1,146.1 1310.0,137.2 1310.8,128.3 1311.7,125.2 1312.7,122.1 1313.6,118.9 1314.5,115.8 1315.5,112.7 1316.4,109.5 1317.4,106.4 1318.3,103.3 1319.3,103.7 1320.2,104.8 1321.2,106.6 1322.2,109.1 1323.2,112.2 1324.1,115.8 1325.1,119.7 1326.1,124.0 1327.0,128.3 1328.0,132.6 1329.0,136.9 1330.0,140.8 1330.9,144.4 1331.9,147.5 1332.9,150.0 1333.9,151.8 1334.8,152.9 1335.8,153.3 1336.8,153.1 1337.8,152.6 1338.7,151.8 1339.7,150.7 1340.7,149.3 1341.7,147.6 1342.7,145.6 1343.7,143.4 1344.6,141.0 1345.6,138.4 1346.6,135.7 1347.6,132.9 1348.6,130.0 1349.5,127.1 1350.5,124.1 1351.5,121.2 1352.5,118.4 1353.5,115.7 1354.5,113.1 1355.4,110.7 1356.4,108.5 1357.4,106.5 1358.4,104.8 1359.4,103.4 1360.4,102.3 1361.3,101.5 1362.3,101.0 1363.3,100.8 1364.3,100.9 1365.3,101.4 1366.2,102.1 1367.2,103.0 1368.2,104.2 1369.2,105.6 1370.2,107.1 1371.2,108.7 1372.2,110.4 1373.1,112.1 1374.1,113.7 1375.1,115.2 1376.1,116.6 1377.1,117.8 1378.0,118.7 1379.0,119.4 1380.0,119.9 1381.0,120.0 1381.9,119.9 1382.8,119.8 1383.7,119.5 1384.6,119.1 1385.5,118.8 1386.4,118.4 1387.3,118.0 1388.2,117.7 1389.1,117.6 1390.0,117.5 1391.0,119.5 1392.0,121.5 1392.9,123.5 1393.9,125.6 1394.9,127.6 1395.8,129.6 1396.8,131.6 1397.8,133.6 1398.8,135.6 1399.8,137.7 1400.7,139.7 1401.7,141.7 1402.7,145.2 1403.7,148.7 1404.6,152.1 1405.6,155.6 1406.6,159.1 1407.6,162.6 1408.6,166.1 1409.6,169.6 1410.5,173.0 1411.5,176.5 1412.5,180.0 1413.4,183.5 1414.2,187.1 1415.1,190.6 1416.0,194.2 1416.9,197.7 1417.8,201.2 1418.6,204.8 1419.5,208.3 1420.5,207.8 1421.5,206.3 1422.5,203.8 1423.5,200.5 1424.4,196.3 1425.4,191.5 1426.4,186.1 1427.4,180.3 1428.4,174.3 1429.4,168.2 1430.4,162.2 1431.4,156.4 1432.4,151.0 1433.4,146.2 1434.3,142.0 1435.3,138.7 1436.3,136.2 1437.3,134.7 1438.3,134.2 1439.3,135.0 1440.3,137.3 1441.3,141.1 1442.3,146.2 1443.3,152.3 1444.3,159.4 1445.3,167.0 1446.2,175.0 1447.2,183.0 1448.2,190.6 1449.2,197.7 1450.2,203.8 1451.2,208.9 1452.2,212.7 1453.2,215.0 1454.2,215.8 1455.2,215.4 1456.1,214.2 1457.1,212.3 1458.1,209.6 1459.0,206.3 1460.0,202.2 1460.9,197.7 1461.9,192.6 1462.9,187.1 1463.8,181.3 1464.8,175.2 1465.8,168.9 1466.7,162.7 1467.7,156.4 1468.7,150.3 1469.6,144.5 1470.6,139.0 1471.6,133.9 1472.5,129.4 1473.5,125.3 1474.4,122.0 1475.4,119.3 1476.4,117.4 1477.3,116.2 1478.3,115.8 1479.3,117.0 1480.2,120.5 1481.2,126.3 1482.2,134.2 1483.1,143.9 1484.1,155.3 1485.1,167.9 1486.0,181.5 1487.0,195.7 1488.0,210.1 1489.0,224.3 1489.9,237.9 1490.9,250.5 1491.9,261.9 1492.8,271.6 1493.8,279.5 1494.8,285.3 1495.7,288.8 1496.7,290.0 1497.7,289.7 1498.6,288.9 1499.6,287.5 1500.6,285.6 1501.6,283.1 1502.5,280.1 1503.5,276.7 1504.5,272.7 1505.5,268.4 1506.4,263.7 1507.4,258.6 1508.4,253.1 1509.3,247.4 1510.3,241.5 1511.3,235.3 1512.3,229.1 1513.2,222.7 1514.2,216.2 1515.2,209.8 1516.1,203.4 1517.1,197.2 1518.1,191.0 1519.1,185.1 1520.0,179.4 1521.0,173.9 1522.0,168.8 1523.0,164.1 1523.9,159.8 1524.9,155.8 1525.9,152.4 1526.8,149.4 1527.8,146.9 1528.8,145.0 1529.8,143.6 1530.7,142.8 1531.7,142.5 1532.7,142.7 1533.7,143.4 1534.7,144.5 1535.7,146.0 1536.7,147.9 1537.7,150.2 1538.6,152.8 1539.6,155.7 1540.6,158.9 1541.6,162.2 1542.6,165.8 1543.6,169.4 1544.6,173.1 1545.6,176.8 1546.6,180.4 1547.6,184.0 1548.6,187.3 1549.6,190.5 1550.6,193.4 1551.5,196.0 1552.5,198.3 1553.5,200.2 1554.5,201.7 1555.5,202.8 1556.5,203.5 1557.5,203.7 1558.5,203.4 1559.4,202.7 1560.3,201.4 1561.3,199.7 1562.2,197.7 1563.2,195.5 1564.2,193.1 1565.1,190.7 1566.0,188.5 1567.0,186.5 1568.0,184.8 1568.9,183.5 1569.8,182.8 1570.8,182.5 1571.6,184.9 1572.5,187.2 1573.3,189.6 1574.1,192.0 1575.0,194.3 1575.8,196.7 1576.7,203.3 1577.5,210.0 1577.9,216.7 1578.3,223.3 1579.2,233.2 1580.0,243.0 1580.4,253.2 1580.8,263.3 1581.2,270.0 1581.7,276.7 1582.6,295.9 1583.5,315.0 1584.5,334.0 1585.4,353.0 1586.2,376.5 1587.0,400.0 1587.5,415.0 1588.0,430.0 1588.2,441.6 1588.3,453.3 1588.5,422.1 1588.8,391.0 1589.0,371.9 1589.2,352.8 1589.6,333.6 1590.0,314.4 1590.5,300.9 1591.0,287.5 1591.5,277.2 1592.0,267.0 1592.5,257.0 1593.0,247.0 1593.5,241.3 1594.0,235.7 1594.7,231.1 1595.3,226.6 1596.0,222.0 1596.8,220.3 1597.7,218.7 1598.5,217.0 1599.4,219.1 1600.2,221.3 1601.1,223.4 1601.9,225.6 1602.8,227.7 1603.6,229.9 1604.5,232.0 1605.5,240.9 1606.4,249.8 1607.4,258.7 1608.1,267.3 1608.7,276.0 1609.4,284.6 1610.3,298.6 1611.3,312.5 1612.3,321.5 1613.2,330.4 1614.2,339.4 1615.2,352.8 1616.1,366.2 1617.0,379.6 1618.0,393.0 1618.8,401.7 1619.5,410.3 1620.3,419.0 1621.1,409.7 1622.0,400.3 1622.8,391.0 1623.8,377.5 1624.7,364.0 1625.2,350.5 1625.7,337.0 1626.2,324.8 1626.6,312.5 1627.1,305.8 1627.6,299.0 1628.1,285.5 1628.6,272.0 1629.0,264.4 1629.5,256.8 1630.0,250.1 1630.5,243.4 1631.0,236.7 1631.4,230.0 1631.9,222.3 1632.4,214.6 1632.9,207.8 1633.4,201.0 1633.8,194.8 1634.3,188.6 1635.2,178.3 1636.0,168.0 1637.0,163.9 1637.9,159.8 1638.9,155.7 1639.8,151.6 1640.8,147.5 1641.7,150.0 1642.6,152.5 1643.5,155.0 1644.3,157.5 1645.2,160.0 1646.1,162.5 1647.0,165.0 1647.9,168.8 1648.8,172.5 1649.8,176.3 1650.7,180.0 1651.6,183.8 1652.5,196.3 1653.5,208.8 1654.5,222.2 1655.4,235.7 1656.1,244.7 1656.7,253.6 1657.4,262.6 1658.1,276.0 1658.7,289.4 1659.2,296.1 1659.7,302.9 1660.2,316.4 1660.6,329.8 1661.2,336.5 1661.8,343.2 1662.6,352.1 1663.3,361.1 1664.1,370.0 1665.0,375.2 1666.0,380.5 1667.0,385.8 1667.9,391.0 1668.4,386.3 1668.9,381.6 1669.8,367.2 1670.8,352.8 1671.8,337.4 1672.7,322.0 1673.2,308.6 1673.7,295.2 1674.2,281.8 1674.6,268.3 1675.1,261.6 1675.6,254.9 1676.2,249.2 1676.8,243.4"/>
<polyline class="d" stroke="#4dbeee"  points="211.5,305.0 212.2,288.5 213.0,272.0 213.7,267.3 214.3,262.7 215.0,258.0 215.8,255.8 216.6,253.6 217.4,251.4 218.2,249.2 219.0,247.0 219.8,245.2 220.7,243.3 221.5,241.5 222.3,239.7 223.2,237.8 224.0,236.0 224.8,244.0 225.7,252.0 226.5,260.0 227.2,280.0 228.0,300.0 228.7,320.0 229.3,340.0 229.8,362.5 230.2,385.0 230.5,400.0 230.8,415.0 231.2,400.0 231.5,385.0 232.0,367.5 232.5,350.0 233.2,332.5 234.0,315.0 234.7,303.3 235.3,291.7 236.0,280.0 236.8,265.0 237.5,250.0 238.2,241.7 238.8,233.3 239.5,225.0 240.4,221.9 241.3,218.9 242.2,215.8 243.2,212.8 244.1,209.8 245.0,206.7 245.9,209.0 246.8,211.2 247.7,213.5 248.6,215.7 249.5,218.0 250.4,224.8 251.2,231.5 252.1,238.2 253.0,245.0 253.8,251.0 254.6,257.0 255.4,263.0 256.2,269.0 257.0,275.0 257.8,282.5 258.5,290.0 259.2,297.5 260.0,305.0 260.8,310.7 261.7,316.3 262.5,322.0 263.4,327.8 264.2,333.5 265.1,339.2 266.0,345.0 266.8,350.0 267.6,355.0 268.4,360.0 269.2,365.0 270.0,370.0 270.7,380.0 271.3,390.0 272.0,400.0 272.8,415.0 273.5,430.0 273.9,438.5 274.3,447.0 275.1,433.5 276.0,420.0 276.8,400.0 277.5,380.0 278.2,360.0 279.0,340.0 279.5,320.0 280.0,300.0 280.9,279.0 281.7,258.0 282.5,238.7 283.2,219.3 284.0,200.0 284.8,187.5 285.5,175.0 286.2,162.5 287.0,150.0 287.8,143.0 288.5,136.0 289.2,129.0 290.0,122.0 290.9,120.0 291.7,118.0 292.6,116.0 293.4,114.0 294.3,112.0 295.1,110.0 296.0,108.0 296.9,113.0 297.9,118.1 298.8,123.1 299.7,128.2 300.6,133.2 301.6,138.3 302.5,143.3 303.3,148.0 304.2,152.7 305.0,157.3 305.9,162.0 306.7,166.7 307.6,168.5 308.6,170.2 309.5,172.0 310.4,173.8 311.4,175.5 312.3,177.3 313.3,179.0 314.2,180.8 315.1,180.6 316.0,179.9 316.9,178.8 317.8,177.4 318.7,175.8 319.7,174.2 320.6,172.6 321.5,171.2 322.4,170.1 323.3,169.4 324.2,169.2 325.2,171.2 326.2,173.3 327.1,175.3 328.1,177.4 329.1,179.4 330.1,181.5 331.1,183.5 332.1,185.6 333.0,187.6 334.0,189.7 335.0,191.7 335.8,194.6 336.6,197.5 337.5,200.4 338.3,203.3 339.1,210.0 340.0,216.7 340.4,223.3 340.8,230.0 341.2,236.7 341.7,243.3 342.1,250.0 342.5,256.7 343.0,263.4 343.5,270.0 344.2,276.6 345.0,283.3 345.4,296.6 345.8,310.0 346.2,330.0 346.7,350.0 347.1,370.0 347.5,390.0 347.9,410.0 348.3,430.0 348.8,450.0 349.2,470.0 349.6,485.0 350.0,500.0 350.4,520.0 350.8,540.0 351.0,555.5 351.2,571.0 351.6,555.5 351.9,540.0 352.2,520.0 352.5,500.0 352.9,480.0 353.3,460.0 353.8,440.0 354.2,420.0 355.0,406.5 355.8,393.0 356.6,380.0 357.5,367.0 358.4,353.5 359.2,340.0 360.0,331.0 360.9,322.0 361.7,313.0 362.5,304.3 363.4,295.7 364.2,287.0 365.0,279.5 365.8,272.0 366.2,266.9 366.7,261.7 367.5,247.5 368.3,233.3 369.1,220.0 370.0,206.7 370.9,200.0 371.7,193.3 372.5,186.7 373.3,180.0 373.8,173.3 374.2,166.7 375.0,160.0 375.8,153.3 376.2,146.7 376.7,140.0 377.5,133.3 378.3,126.7 379.1,124.2 380.0,121.7 380.8,119.2 381.6,116.7 382.5,114.2 383.3,111.7 384.3,113.6 385.2,115.5 386.2,117.4 387.1,119.3 388.1,121.2 389.0,123.1 390.0,125.0 390.8,130.0 391.6,135.0 392.4,140.0 393.2,145.0 394.0,150.0 394.8,157.5 395.5,165.0 396.2,172.5 397.0,180.0 397.8,187.5 398.5,195.0 399.2,202.5 400.0,210.0 400.8,216.2 401.5,222.5 402.2,228.8 403.0,235.0 403.9,238.3 404.8,241.7 405.7,245.0 406.6,248.4 407.5,251.7 408.4,246.7 409.2,241.7 410.0,234.2 410.8,226.7 411.2,220.0 411.7,213.3 412.5,206.7 413.3,200.0 413.8,193.3 414.2,186.7 415.0,180.0 415.8,173.3 416.2,166.7 416.7,160.0 417.5,151.1 418.4,142.2 419.2,133.3 420.0,128.3 420.9,123.3 421.7,118.3 422.6,116.6 423.6,115.0 424.5,113.3 425.5,111.7 426.4,110.0 427.4,108.4 428.3,106.7 429.3,107.8 430.2,108.9 431.2,110.0 432.2,111.1 433.2,112.2 434.1,113.3 435.1,114.5 436.1,115.6 437.1,116.7 438.1,117.8 439.0,118.9 440.0,120.0 440.8,123.3 441.6,126.7 442.5,130.0 443.3,133.3 444.1,140.0 445.0,146.7 445.8,151.1 446.7,155.6 447.5,160.0 448.3,163.0 449.2,166.0 450.0,169.0 450.9,172.0 451.7,175.0 452.6,171.7 453.5,168.5 454.4,165.2 455.3,162.0 456.2,158.7 457.2,155.5 458.1,152.2 459.0,149.0 459.9,145.7 460.8,142.5 461.7,139.2 462.6,137.4 463.6,135.6 464.5,133.8 465.5,132.1 466.4,130.3 467.4,128.5 468.3,126.7 469.1,124.8 470.0,122.8 470.8,120.8 471.6,118.9 472.5,117.0 473.3,115.0 474.2,114.1 475.1,113.2 476.1,112.2 477.0,111.3 477.9,110.4 478.8,109.5 479.7,108.6 480.7,107.6 481.6,106.7 482.5,105.8 483.5,106.3 484.5,106.9 485.4,107.4 486.4,107.9 487.4,108.5 488.4,109.0 489.4,109.6 490.4,110.1 491.3,110.6 492.3,111.2 493.3,111.7 494.3,112.3 495.2,113.0 496.2,113.6 497.2,114.2 498.2,114.8 499.1,115.5 500.1,116.1 501.1,116.7 502.1,117.3 503.1,118.0 504.0,118.6 505.0,119.2 505.9,119.3 506.9,119.4 507.8,119.5 508.8,119.6 509.8,119.7 510.7,119.8 511.6,119.8 512.6,119.9 513.5,120.0 514.5,120.1 515.4,120.2 516.4,120.3 517.3,120.4 518.3,120.5 519.1,121.6 520.0,122.8 520.9,123.9 521.7,125.0 522.5,128.9 523.4,132.8 524.2,136.7 524.6,143.3 525.0,150.0 525.9,156.7 526.7,163.3 527.6,168.0 528.6,172.8 529.5,177.5 530.4,177.2 531.3,176.9 532.2,176.6 533.1,176.2 534.0,175.9 534.9,175.6 535.8,175.3 536.7,175.0 537.7,174.2 538.6,173.3 539.6,172.5 540.6,171.7 541.5,170.8 542.5,170.0 543.4,166.0 544.2,162.0 545.1,157.3 546.1,152.7 547.0,148.0 547.8,144.8 548.6,141.6 549.4,138.4 550.2,135.2 551.0,132.0 551.9,132.3 552.8,133.0 553.8,134.3 554.7,135.9 555.6,137.8 556.5,139.9 557.5,142.1 558.4,144.2 559.3,146.1 560.2,147.7 561.2,149.0 562.1,149.7 563.0,150.0 564.0,149.9 564.9,149.4 565.9,148.8 566.9,147.8 567.8,146.6 568.8,145.2 569.8,143.6 570.7,141.7 571.7,139.7 572.6,137.5 573.6,135.3 574.6,132.9 575.5,130.5 576.5,128.0 577.5,125.5 578.4,123.1 579.4,120.7 580.4,118.5 581.3,116.3 582.3,114.3 583.2,112.4 584.2,110.8 585.2,109.4 586.1,108.2 587.1,107.2 588.1,106.6 589.0,106.1 590.0,106.0 590.9,108.6 591.8,111.3 592.7,113.9 593.6,116.5 594.5,119.2 595.5,121.8 596.4,124.5 597.3,127.1 598.2,129.7 599.1,132.4 600.0,135.0 600.8,139.2 601.7,143.3 602.5,147.5 603.3,151.7 604.2,155.8 605.0,160.0 605.9,166.7 606.7,173.3 607.5,176.7 608.4,180.0 609.2,183.3 610.0,186.7 610.8,188.9 611.7,191.1 612.5,193.3 613.3,195.6 614.2,197.8 615.0,200.0 616.0,198.2 616.9,196.4 617.9,194.6 618.8,192.9 619.8,191.1 620.7,189.3 621.7,187.5 622.5,183.1 623.4,178.6 624.2,174.2 625.0,169.5 625.9,164.7 626.7,160.0 627.1,153.3 627.5,146.7 627.9,140.0 628.3,133.3 629.1,129.8 630.0,126.2 630.9,122.7 631.7,119.2 632.6,117.6 633.5,116.0 634.4,114.4 635.3,112.8 636.2,111.2 637.1,109.6 638.0,108.0 638.9,109.9 639.8,111.8 640.6,113.7 641.5,115.7 642.4,117.6 643.2,119.5 644.1,121.4 645.0,123.3 645.8,127.8 646.7,132.2 647.5,136.7 648.3,141.1 649.2,145.6 650.0,150.0 650.9,156.7 651.7,163.3 652.1,170.0 652.5,176.7 652.9,183.3 653.3,190.0 653.8,196.7 654.2,203.3 654.6,210.0 655.0,216.7 655.4,224.2 655.8,231.7 656.2,238.3 656.7,245.0 657.5,251.7 658.3,258.3 659.1,265.0 660.0,271.7 660.5,278.9 661.0,286.0 661.9,292.5 662.8,299.0 663.8,292.5 664.7,286.0 665.2,279.6 665.8,273.3 666.2,266.6 666.7,260.0 667.5,253.3 668.3,246.7 668.8,240.0 669.2,233.3 669.6,226.7 670.0,220.0 670.1,213.3 670.3,206.7 671.0,200.0 671.7,193.3 672.5,190.0 673.4,186.7 674.2,183.3 675.0,180.0 675.8,175.6 676.7,171.1 677.5,166.7 678.4,160.0 679.2,153.3 680.1,146.7 681.0,140.0 681.8,135.5 682.5,131.0 683.2,126.5 684.0,122.0 684.9,120.0 685.8,118.0 686.7,116.0 687.6,114.0 688.5,112.0 689.4,114.6 690.3,117.2 691.2,119.8 692.1,122.4 693.0,125.0 693.8,131.2 694.5,137.5 695.2,143.8 696.0,150.0 696.8,162.5 697.5,175.0 698.2,187.5 699.0,200.0 699.7,216.7 700.3,233.3 701.0,250.0 701.4,262.5 701.7,275.0 702.1,282.5 702.5,290.0 702.9,296.5 703.3,303.0 703.8,309.9 704.2,316.7 704.6,323.4 705.0,330.0 705.1,336.5 705.3,343.0 705.5,350.0 705.8,357.0 706.0,363.5 706.1,370.0 706.4,376.5 706.7,383.0 706.8,390.0 706.9,397.0 707.0,403.5 707.1,410.0 707.3,416.5 707.5,423.0 707.9,430.0 708.3,437.0 708.8,443.5 709.2,450.0 709.6,465.0 710.0,480.0 710.4,520.0 710.8,560.0 711.1,614.5 711.5,669.0 711.9,614.5 712.2,560.0 712.5,520.0 712.8,480.0 713.5,463.5 714.2,447.0 714.6,440.0 715.0,433.0 715.4,426.5 715.8,420.0 716.2,413.5 716.7,407.0 717.1,400.0 717.5,393.0 717.9,386.5 718.3,380.0 718.5,373.5 718.6,367.0 718.9,360.0 719.2,353.0 719.6,346.5 720.0,340.0 720.4,332.5 720.8,325.0 721.2,318.5 721.7,312.0 722.1,305.0 722.5,298.0 722.9,291.5 723.3,285.0 723.8,277.9 724.2,270.8 724.6,264.1 725.0,257.5 725.4,250.4 725.8,243.3 726.2,236.7 726.7,230.0 727.5,223.3 728.3,216.7 728.8,210.0 729.2,203.3 730.0,196.7 730.8,190.0 731.6,183.3 732.5,176.7 732.9,170.4 733.3,164.2 734.1,159.7 735.0,155.3 735.8,150.8 736.6,147.5 737.5,144.2 738.4,140.8 739.2,137.5 740.0,134.2 740.9,130.8 741.7,127.5 742.5,124.2 743.4,122.6 744.4,121.1 745.3,119.5 746.2,118.0 747.2,116.4 748.1,114.8 749.1,113.3 750.0,111.7 750.9,111.0 751.9,110.2 752.8,109.5 753.8,108.8 754.7,108.0 755.6,107.3 756.6,106.5 757.5,105.8 758.5,106.5 759.5,107.2 760.5,108.0 761.5,108.7 762.5,109.4 763.4,110.1 764.4,110.8 765.4,111.5 766.4,112.3 767.4,113.0 768.4,113.7 769.4,114.7 770.3,115.6 771.3,116.6 772.3,117.5 773.3,118.5 774.2,119.4 775.2,120.4 776.2,121.3 777.2,122.3 778.1,123.2 779.1,124.2 780.1,125.1 781.1,126.1 782.0,127.0 783.0,128.0 783.9,130.8 784.8,133.5 785.6,136.2 786.5,139.0 787.4,141.8 788.2,144.5 789.1,147.2 790.0,150.0 790.9,154.5 791.9,159.0 792.8,163.5 793.7,168.0 794.6,165.1 795.6,162.2 796.5,159.3 797.4,156.4 798.4,153.5 799.3,150.6 800.2,147.7 801.1,144.8 802.1,141.9 803.0,139.0 803.8,137.0 804.7,135.0 805.5,133.0 806.3,131.0 807.2,129.0 808.0,127.0 808.9,126.3 809.7,125.6 810.6,124.9 811.4,124.1 812.3,123.4 813.1,122.7 814.0,122.0 814.9,123.4 815.9,124.9 816.8,126.3 817.8,127.8 818.7,129.2 819.6,130.6 820.6,132.1 821.5,133.5 822.4,134.9 823.4,136.4 824.3,137.8 825.2,139.2 826.2,140.7 827.1,142.1 828.1,143.6 829.0,145.0 829.9,146.9 830.7,148.7 831.6,150.6 832.4,152.4 833.3,154.3 834.1,156.1 835.0,158.0 835.9,156.0 836.9,154.0 837.8,152.0 838.7,150.0 839.6,148.0 840.6,146.0 841.5,144.0 842.4,142.0 843.4,140.0 844.3,138.0 845.2,136.0 846.1,134.0 847.1,132.0 848.0,130.0 849.0,128.4 850.0,126.9 850.9,125.3 851.9,123.8 852.9,122.2 853.8,120.6 854.8,119.1 855.8,117.5 856.8,120.1 857.8,122.8 858.8,125.4 859.7,128.0 860.7,130.7 861.7,133.3 862.5,137.5 863.4,141.6 864.2,145.8 865.0,150.0 865.9,154.1 866.7,158.3 867.6,158.9 868.5,159.5 869.4,160.1 870.3,160.7 871.2,161.3 872.2,162.0 873.1,162.6 874.0,163.2 874.9,163.8 875.8,164.4 876.7,165.0 877.6,163.3 878.6,161.7 879.5,160.0 880.5,158.3 881.4,156.6 882.4,155.0 883.3,153.3 884.3,147.8 885.2,142.4 886.2,136.9 887.1,131.4 888.1,125.9 889.0,120.5 890.0,115.0 890.9,113.8 891.8,112.6 892.8,111.4 893.7,110.2 894.6,109.0 895.5,107.8 896.5,106.6 897.4,105.4 898.3,104.2 899.1,106.4 900.0,108.5 900.8,110.7 901.7,112.8 902.5,115.0 903.3,118.9 904.2,122.8 905.0,126.7 905.9,128.3 906.7,130.0 907.5,133.3 908.4,136.7 909.2,140.0 910.0,143.3 910.8,146.7 911.6,150.0 912.5,153.3 913.3,156.7 914.0,160.5 914.8,164.2 915.5,168.0 916.3,167.2 917.1,166.4 918.0,165.6 918.8,164.8 919.6,164.0 920.5,160.9 921.5,157.9 922.4,154.8"/>
<polyline class="d" stroke="#a2142f"  points="211.5,165.0 212.4,157.5 213.3,150.0 214.1,147.0 215.0,144.0 215.8,141.0 216.7,138.0 217.5,135.0 218.5,136.7 219.4,138.3 220.4,140.0 221.4,141.7 222.3,143.3 223.3,145.0 224.1,149.4 225.0,153.9 225.8,158.3 226.2,165.0 226.7,171.7 227.1,178.3 227.5,185.0 228.3,191.7 229.2,198.3 229.6,205.0 230.0,211.7 230.4,218.3 230.8,225.0 231.2,232.1 231.7,239.2 232.5,244.5 233.4,249.7 234.2,255.0 235.0,267.5 235.8,280.0 236.7,295.9 237.5,311.7 238.0,331.9 238.5,352.0 239.2,326.0 240.0,300.0 240.8,279.0 241.7,258.0 242.5,251.5 243.3,245.0 244.2,241.2 245.0,237.5 245.8,233.8 246.7,230.0 247.7,234.7 248.6,239.4 249.6,244.2 250.6,248.9 251.5,253.6 252.5,258.3 253.3,267.2 254.2,276.1 255.0,285.0 255.8,298.4 256.7,311.7 257.5,324.2 258.3,336.7 259.1,345.6 260.0,354.4 260.8,363.3 261.4,376.6 262.0,390.0 262.3,403.4 262.6,416.7 262.7,423.4 262.8,430.0 263.1,415.9 263.3,401.7 264.1,392.8 265.0,383.9 265.8,375.0 266.6,368.3 267.5,361.6 268.4,355.0 269.2,348.3 270.0,343.3 270.9,338.3 271.7,333.3 272.5,324.4 273.4,315.6 274.2,306.7 275.0,293.4 275.8,280.0 276.2,267.5 276.7,255.0 277.5,240.8 278.3,226.7 279.1,213.3 280.0,200.0 280.9,186.7 281.7,173.3 282.5,160.0 283.3,146.7 284.1,139.6 285.0,132.5 285.9,125.4 286.7,118.3 287.6,115.5 288.4,112.8 289.3,110.0 290.1,107.3 291.0,104.5 292.0,105.9 293.0,107.3 293.9,108.6 294.9,110.0 295.9,111.4 296.9,112.8 297.9,114.2 298.8,115.5 299.8,116.9 300.8,118.3 301.6,122.8 302.5,127.2 303.3,131.7 304.1,145.8 305.0,160.0 306.0,161.8 306.9,163.6 307.9,165.4 308.9,167.2 309.8,169.0 310.8,170.8 311.8,170.4 312.7,169.3 313.7,167.6 314.6,165.2 315.6,162.5 316.6,159.5 317.5,156.3 318.5,153.3 319.5,150.6 320.4,148.2 321.4,146.5 322.3,145.4 323.3,145.0 324.3,147.5 325.3,150.0 326.2,152.5 327.2,155.0 328.2,157.5 329.2,160.0 330.0,163.3 330.9,166.7 331.7,170.0 332.5,173.3 333.3,175.6 334.2,178.0 335.0,180.3 335.9,182.7 336.7,185.0 337.5,182.5 338.4,180.0 339.2,177.5 340.0,175.0 340.9,172.5 341.7,170.0 342.5,163.3 343.3,156.7 344.1,150.0 345.0,143.3 345.9,136.7 346.7,130.0 347.5,125.6 348.4,121.1 349.2,116.7 350.0,113.7 350.8,110.7 351.7,107.7 352.5,104.7 353.3,101.7 354.1,103.1 355.0,104.5 355.8,105.8 356.6,107.2 357.5,108.6 358.3,110.0 359.1,112.3 360.0,114.7 360.8,117.0 361.7,119.4 362.5,121.7 363.3,126.7 364.2,131.7 365.0,136.7 365.9,143.3 366.7,150.0 367.5,156.7 368.3,163.3 369.1,170.0 370.0,176.7 370.9,183.3 371.7,190.0 372.1,196.7 372.5,203.3 373.3,206.0 374.2,208.7 375.0,211.3 375.9,214.0 376.7,216.7 377.6,217.7 378.6,218.8 379.5,219.8 380.4,220.8 381.4,221.9 382.3,222.9 383.3,224.0 384.2,225.0 385.0,228.9 385.9,232.8 386.7,236.7 387.1,243.3 387.5,250.0 388.4,256.6 389.2,263.3 389.9,270.8 390.5,278.3 391.1,285.0 391.7,291.7 392.1,298.4 392.5,305.0 393.4,311.6 394.2,318.3 395.0,320.0 395.8,321.7 396.7,323.3 397.5,325.0 398.3,326.7 399.1,327.8 400.0,328.9 400.8,330.0 401.6,331.1 402.5,332.2 403.3,333.3 404.1,340.0 405.0,346.7 405.4,353.4 405.8,360.0 406.2,366.6 406.7,373.3 407.1,380.0 407.5,386.7 408.4,418.4 409.2,450.0 410.0,462.9 410.8,475.7 411.0,487.9 411.2,500.0 411.5,479.1 411.7,458.3 412.1,445.8 412.5,433.3 412.6,420.8 412.7,408.3 413.0,395.8 413.3,383.3 413.8,370.8 414.2,358.3 414.6,345.8 415.0,333.3 415.4,320.8 415.8,308.3 416.2,295.8 416.7,283.3 416.9,269.1 417.0,255.0 417.2,241.7 417.5,228.3 418.4,215.0 419.2,201.7 419.6,195.0 420.0,188.3 420.9,175.0 421.7,161.7 422.5,155.0 423.4,148.3 424.2,141.7 425.0,135.0 425.8,131.2 426.6,127.5 427.5,123.8 428.3,120.0 429.2,120.2 430.2,120.9 431.1,121.9 432.0,123.1 433.0,124.4 433.9,125.6 434.8,126.6 435.8,127.3 436.7,127.5 437.7,126.8 438.6,126.1 439.6,125.4 440.6,124.7 441.5,124.0 442.5,123.3 443.3,121.0 444.2,118.6 445.0,116.2 445.8,113.9 446.7,111.5 447.5,109.2 448.4,108.2 449.2,107.2 450.1,106.1 451.0,105.1 451.9,104.1 452.8,103.0 453.6,102.0 454.5,101.0 455.4,104.1 456.4,107.2 457.4,110.2 458.3,113.3 459.1,120.0 460.0,126.7 460.4,133.3 460.8,140.0 461.2,146.7 461.7,153.3 462.5,161.1 463.4,168.9 464.2,176.7 465.0,185.6 465.9,194.4 466.7,203.3 467.6,206.7 468.6,210.0 469.6,213.3 470.5,216.7 471.4,208.1 472.4,199.4 473.3,190.8 474.1,184.2 475.0,177.5 475.4,170.8 475.8,164.2 476.6,159.7 477.5,155.3 478.3,150.8 479.2,149.8 480.1,148.7 481.0,147.7 481.8,146.6 482.7,145.6 483.6,144.5 484.5,143.5 485.4,146.5 486.4,149.4 487.3,152.4 488.3,155.3 489.2,158.3 490.0,165.0 490.8,171.7 491.2,178.3 491.7,185.0 492.5,191.7 493.3,198.3 493.8,205.0 494.2,211.7 495.0,218.3 495.8,225.0 496.6,231.7 497.5,238.3 498.3,241.7 499.1,245.0 500.0,248.3 500.8,251.7 501.6,247.8 502.5,243.9 503.3,240.0 504.1,236.7 505.0,233.3 505.9,230.0 506.7,226.7 507.5,220.0 508.3,213.3 509.1,208.9 510.0,204.4 510.8,200.0 511.6,197.3 512.5,194.7 513.3,192.0 514.2,189.4 515.0,186.7 516.0,185.0 516.9,183.4 517.9,181.7 518.9,180.0 519.8,178.4 520.8,176.7 521.6,180.9 522.5,185.0 523.3,189.2 524.1,192.5 525.0,195.8 525.9,199.2 526.7,202.5 527.5,209.2 528.3,215.8 528.8,222.5 529.2,229.2 529.6,235.8 530.0,242.5 530.4,249.6 530.8,256.7 531.2,263.4 531.7,270.0 532.1,276.6 532.5,283.3 533.2,287.9 533.8,292.4 534.5,297.0 535.2,301.5 536.0,306.0 536.8,299.5 537.5,293.0 538.4,284.0 539.2,275.0 539.6,268.4 540.0,261.7 540.4,255.0 540.8,248.3 541.2,241.7 541.7,235.0 541.8,228.3 541.9,221.7 542.2,215.4 542.5,209.2 543.4,202.5 544.2,195.8 545.0,191.6 545.9,187.5 546.7,183.3 547.6,181.4 548.6,179.5 549.5,177.6 550.5,175.7 551.4,173.8 552.4,171.9 553.3,170.0 554.3,172.2 555.3,174.4 556.2,176.7 557.2,178.9 558.2,181.1 559.2,183.3 560.0,186.3 560.8,189.3 561.7,192.3 562.5,195.3 563.3,198.3 564.1,197.5 565.0,196.6 565.8,195.8 566.6,195.0 567.5,194.1 568.3,193.3 569.1,189.1 570.0,185.0 570.8,180.8 571.6,174.2 572.5,167.5 572.9,161.2 573.3,155.0 573.8,148.3 574.2,141.7 575.0,138.3 575.9,135.0 576.7,131.7 577.5,128.3 578.3,123.9 579.2,119.4 580.0,115.0 580.9,113.3 581.9,111.7 582.8,110.0 583.8,108.3 584.7,106.7 585.6,105.0 586.6,103.4 587.5,101.7 588.5,103.2 589.4,104.8 590.4,106.3 591.3,107.9 592.3,109.4 593.2,111.0 594.2,112.5 595.0,116.0 595.9,119.6 596.7,123.2 597.5,126.7 598.5,129.2 599.4,131.7 600.4,134.2 601.4,136.7 602.3,139.2 603.3,141.7 604.1,142.3 605.0,143.0 605.8,137.8 606.7,132.7 607.5,127.5 608.3,123.1 609.2,118.6 610.0,114.2 611.0,112.0 611.9,109.7 612.9,107.5 613.9,105.3 614.8,103.0 615.8,100.8 616.8,102.1 617.7,103.4 618.7,104.7 619.6,106.1 620.6,107.4 621.5,108.7 622.5,110.0 623.3,113.5 624.1,117.1 625.0,120.7 625.8,124.2 626.6,126.5 627.5,128.8 628.3,131.2 629.2,133.5 630.0,135.8 630.8,134.6 631.7,133.3 632.5,132.1 633.3,130.8 634.2,129.6 635.0,128.3 635.8,125.4 636.6,122.5 637.5,119.6 638.3,116.7 639.1,114.2 640.0,111.7 640.8,109.2 641.6,106.7 642.5,104.2 643.3,101.7 644.2,102.1 645.1,102.5 646.1,102.9 647.0,103.3 647.9,103.8 648.8,104.2 649.7,104.6 650.7,105.0 651.6,105.4 652.5,105.8 653.3,108.5 654.2,111.2 655.0,113.8 655.9,116.5 656.7,119.2 657.5,122.5 658.4,125.8 659.2,129.2 660.0,132.5 660.8,134.6 661.7,136.7 662.5,138.8 663.3,140.8 664.2,142.9 665.0,145.0 665.8,146.7 666.7,148.3 667.5,150.0 668.3,151.7 669.2,153.3 670.0,155.0 670.8,151.9 671.6,148.8 672.5,145.6 673.3,142.5 674.1,138.1 675.0,133.6 675.8,129.2 676.6,125.8 677.5,122.5 678.4,119.1 679.2,115.8 680.1,115.1 681.1,114.5 682.0,113.8 683.0,113.2 683.9,112.5 684.8,111.8 685.8,111.2 686.7,110.5 687.5,112.8 688.4,115.1 689.2,117.3 690.0,119.6 690.9,121.9 691.7,124.2 692.5,130.8 693.3,137.5 694.1,141.2 695.0,145.0 695.8,147.5 696.7,150.0 697.5,152.5 698.4,155.0 699.2,157.5 700.0,153.9 700.9,150.4 701.7,146.9 702.5,143.3 703.3,138.9 704.2,134.4 705.0,130.0 705.8,125.6 706.7,121.1 707.5,116.7 708.3,114.6 709.2,112.5 710.0,110.5 710.8,108.4 711.7,106.3 712.5,104.2 713.3,106.0 714.2,107.8 715.0,109.6 715.8,111.4 716.7,113.2 717.5,115.0 718.4,120.8 719.2,126.7 720.0,131.7 720.9,136.7 721.7,141.7 722.5,146.1 723.4,150.6 724.2,155.0 725.0,161.7 725.8,168.3 726.2,175.0 726.7,181.7 727.1,188.3 727.5,195.0 728.4,201.7 729.2,208.3 730.0,215.0 730.8,221.7 731.6,226.8 732.5,232.0 733.3,232.8 734.2,233.7 735.0,234.5 735.8,235.3 736.7,236.2 737.5,237.0 738.3,232.8 739.1,228.5 740.0,224.2 740.8,220.0 741.2,213.3 741.7,206.7 742.5,200.0 743.3,193.3 744.1,188.9 745.0,184.4 745.8,180.0 746.6,173.3 747.5,166.7 748.3,164.9 749.2,163.1 750.0,161.2 750.8,159.4 751.7,157.6 752.5,155.8 753.5,157.6 754.4,159.4 755.4,161.2 756.4,163.1 757.3,164.9 758.3,166.7 759.1,173.3 760.0,180.0 760.4,186.7 760.8,193.3 761.2,200.0 761.7,206.7 762.5,211.1 763.4,215.4 764.2,219.8 765.0,224.2 765.9,217.9 766.7,211.7 767.5,205.0 768.3,198.3 769.1,191.7 770.0,185.0 770.9,178.3 771.7,171.7 772.5,165.0 773.3,158.3 774.1,151.7 775.0,145.0 775.1,138.3 775.3,131.7 776.0,125.0 776.7,118.3 777.6,116.6 778.6,115.0 779.5,113.3 780.5,111.7 781.4,110.0 782.3,108.3 783.3,106.7 784.2,105.0 785.2,105.3 786.2,106.1 787.2,107.5 788.1,109.3 789.1,111.5 790.1,113.8 791.1,116.2 792.1,118.5 793.1,120.7 794.0,122.5 795.0,123.9 796.0,124.7 797.0,125.0 797.9,124.8 798.9,124.3 799.8,123.5 800.8,122.4 801.7,121.1 802.6,119.7 803.6,118.3 804.5,116.9 805.4,115.6 806.4,114.5 807.3,113.7 808.3,113.2 809.2,113.0 810.2,115.1 811.1,117.2 812.1,119.3 813.1,121.4 814.1,123.5 815.0,125.6 816.0,127.7 816.8,132.3 817.5,137.0 817.9,142.0 818.3,147.0 818.8,152.7 819.2,158.3 819.6,165.0 820.0,171.7 820.4,178.3 820.8,185.0 821.0,191.7 821.2,198.3 821.9,205.0 822.5,211.7 823.4,218.3 824.2,225.0 825.0,228.3 825.9,231.7 826.7,235.0 827.5,238.3 828.3,235.8 829.1,233.3 830.0,230.8 830.8,228.3 831.4,221.7 832.0,215.0 832.1,208.3 832.3,201.7 832.5,195.0 832.6,188.3 833.4,181.7 834.2,175.0 835.0,170.6 835.9,166.1 836.7,161.7 837.6,158.0 838.5,154.2 839.5,150.5 840.4,146.7 841.3,143.0 842.2,139.2 843.2,135.5 844.1,131.7 845.0,128.0 845.9,128.2 846.9,128.7 847.8,129.6 848.7,130.8 849.7,132.2 850.6,133.9 851.5,135.6 852.5,137.4 853.4,139.1 854.3,140.8 855.3,142.2 856.2,143.4 857.1,144.3 858.1,144.8 859.0,145.0 860.0,144.5 860.9,142.9 861.9,140.3 862.8,137.0 863.8,133.1 864.8,129.0 865.7,124.9 866.7,121.0 867.6,117.7 868.6,115.1 869.5,113.5 870.5,113.0 871.4,114.5 872.3,115.9 873.2,117.4 874.0,118.9 874.9,120.4 875.8,121.8 876.7,123.3 877.5,126.0 878.3,128.7 879.2,131.3 880.0,134.0 880.8,136.7 881.6,141.1 882.5,145.6 883.3,150.0 884.1,156.7 885.0,163.3 885.9,170.0 886.7,176.7 887.5,183.3 888.3,190.0 888.8,196.7 889.2,203.3 890.0,210.0 890.8,216.7 891.2,223.3 891.7,230.0 892.5,236.7 893.3,243.3 894.1,246.1 895.0,248.9 895.9,251.7 896.7,254.5 897.5,250.8 898.4,247.0 899.2,243.3 900.0,236.7 900.8,230.0 901.2,223.3 901.7,216.7 902.1,210.0 902.5,203.3 903.4,196.7 904.2,190.0 905.0,183.3 905.8,176.7 906.2,170.0 906.7,163.3 907.5,156.7 908.4,150.0 909.2,143.3 910.0,136.7 910.9,130.0 911.7,123.3 912.5,120.6 913.3,118.0 914.2,115.3 915.0,112.7 915.8,110.0 916.7,108.6 917.7,107.2 918.6,105.8 919.6,104.4 920.5,103.0 921.4,101.6 922.3,100.2 923.2,98.8 924.1,97.4 925.0,96.0 925.8,93.2 926.6,90.5 927.5,87.8 928.3,85.0 929.2,80.7 930.1,76.3 931.0,72.0 931.9,67.8 932.7,63.7 933.6,59.5 934.4,55.2 935.2,50.8 936.0,46.5 936.8,43.6 937.6,40.8 938.5,37.9 939.3,35.0 940.2,33.9 941.1,32.9 942.0,31.8 942.8,31.5 943.5,31.3 944.2,31.0"/>
<polyline class="d" stroke="#0072bd"  points="211.5,235.0 212.2,226.7 212.8,218.3 213.5,210.0 214.3,206.2 215.1,202.4 215.9,198.6 216.7,194.8 217.5,191.0 218.3,192.5 219.2,194.0 220.0,195.5 220.8,197.0 221.7,198.5 222.5,200.0 223.3,204.3 224.2,208.7 225.0,213.0 225.8,226.0 226.7,239.0 227.5,246.2 228.3,253.3 229.2,262.6 230.0,272.0 230.2,283.5 230.5,295.0 231.1,310.0 231.7,325.0 232.5,335.6 233.4,346.1 234.2,356.7 234.6,371.9 235.0,387.0 235.9,384.7 236.8,378.1 237.7,367.7 238.6,354.3 239.5,339.0 240.5,323.0 241.4,307.7 242.3,294.3 243.2,283.9 244.1,277.3 245.0,275.0 245.9,275.4 246.8,276.8 247.7,279.1 248.6,282.5 249.5,287.2 250.5,293.4 251.4,301.6 252.3,312.9 253.2,329.2 254.1,356.9 255.0,450.0 256.0,371.0 256.9,346.8 257.9,332.4 258.9,322.4 259.9,314.9 260.9,309.3 261.8,304.9 262.8,301.5 263.8,299.0 264.8,297.3 265.7,296.3 266.7,296.0 267.6,299.1 268.4,307.1 269.3,316.9 270.1,324.9 271.0,328.0 272.0,319.0 272.9,310.0 273.9,301.0 274.8,292.0 275.8,283.0 276.2,277.5 276.7,272.0 277.1,265.0 277.5,258.0 277.9,250.5 278.3,243.0 278.8,236.5 279.2,230.0 279.6,223.5 280.0,217.0 280.4,210.0 280.8,203.0 281.2,196.5 281.7,190.0 282.1,183.5 282.5,177.0 282.9,170.0 283.3,163.0 283.8,156.5 284.2,150.0 284.6,142.9 285.0,135.8 285.9,129.2 286.7,122.5 287.5,118.3 288.4,114.2 289.2,110.0 290.1,109.2 291.1,108.3 292.0,107.5 293.0,106.7 293.9,105.9 294.9,105.0 295.8,104.2 296.6,107.7 297.5,111.2 298.4,114.8 299.2,118.3 300.0,125.4 300.8,132.5 301.6,137.2 302.5,142.0 303.3,146.7 303.8,153.3 304.2,160.0 304.6,166.7 305.0,173.3 305.9,180.0 306.7,186.7 307.1,193.3 307.5,200.0 307.9,206.7 308.3,213.3 308.8,220.0 309.2,226.7 309.6,233.3 310.0,240.0 310.4,246.7 310.8,253.3 311.1,260.0 311.3,266.7 311.5,272.5 311.7,278.3 312.1,284.1 312.5,290.0 313.2,293.7 313.8,297.3 314.5,301.0 315.2,303.3 316.0,305.7 316.7,308.0 317.6,304.3 318.6,300.7 319.5,297.0 320.2,292.0 321.0,287.0 321.7,282.0 322.5,275.1 323.3,268.3 323.8,261.6 324.2,255.0 325.0,248.3 325.8,241.7 326.2,235.0 326.7,228.3 327.5,221.7 328.3,215.0 328.8,208.3 329.2,201.7 330.0,199.0 330.8,196.3 331.7,193.7 332.5,191.0 333.3,188.3 334.3,186.5 335.3,184.7 336.2,182.9 337.2,181.1 338.2,179.3 339.2,177.5 340.0,180.0 340.8,182.5 341.7,185.0 342.5,187.5 343.3,190.0 344.1,194.4 345.0,198.9 345.8,203.3 346.8,205.8 347.8,208.3 348.8,210.8 349.7,213.3 350.7,215.8 351.7,218.3 352.5,216.6 353.3,215.0 354.2,213.3 355.0,211.7 355.8,210.0 356.6,205.6 357.5,201.1 358.3,196.7 359.1,192.2 360.0,187.8 360.8,183.3 361.6,178.9 362.5,174.4 363.3,170.0 364.1,165.6 365.0,161.1 365.8,156.7 366.6,150.0 367.5,143.3 368.4,136.7 369.2,130.0 370.0,125.6 370.9,121.1 371.7,116.7 372.5,114.5 373.4,112.2 374.2,110.0 375.0,107.8 375.9,105.5 376.7,103.3 377.6,104.1 378.6,105.0 379.5,105.8 380.4,106.7 381.4,107.5 382.3,108.3 383.3,109.2 384.2,110.0 385.0,112.3 385.8,114.7 386.7,117.0 387.5,119.4 388.3,121.7 389.1,126.1 390.0,130.6 390.8,135.0 391.6,141.7 392.5,148.3 393.4,155.0 394.2,161.7 394.6,168.3 395.0,175.0 395.9,181.7 396.7,188.3 397.1,195.0 397.5,201.7 397.9,208.3 398.3,215.0 398.8,221.7 399.2,228.3 399.6,235.0 400.0,241.7 400.9,248.3 401.7,255.0 402.5,261.6 403.3,268.3 404.1,275.8 405.0,283.3 405.9,290.0 406.7,296.7 407.5,303.4 408.3,310.0 409.0,314.0 409.6,318.0 410.3,322.0 411.1,325.5 411.9,329.0 412.6,323.3 413.3,317.7 414.0,312.0 414.5,306.0 415.0,300.0 415.4,293.4 415.8,286.7 416.2,280.0 416.7,273.3 416.8,266.6 416.9,260.0 417.2,253.3 417.5,246.7 417.6,240.0 417.8,233.3 418.5,226.7 419.2,220.0 419.6,213.3 420.0,206.7 420.4,200.0 420.8,193.3 421.2,186.7 421.7,180.0 422.5,173.3 423.3,166.7 424.1,164.1 425.0,161.4 425.8,158.8 426.7,156.1 427.5,153.5 428.4,152.4 429.2,151.2 430.1,150.1 431.0,149.0 431.9,151.0 432.9,153.1 433.8,155.1 434.7,157.2 435.6,159.2 436.6,161.3 437.5,163.3 438.3,165.6 439.2,168.0 440.0,170.3 440.9,172.7 441.7,175.0 442.7,174.7 443.7,173.9 444.7,172.6 445.6,170.9 446.6,168.7 447.6,166.3 448.6,163.6 449.6,160.8 450.6,158.1 451.6,155.4 452.6,153.0 453.6,150.8 454.5,149.1 455.5,147.8 456.5,147.0 457.5,146.7 458.4,147.1 459.4,148.4 460.3,150.3 461.2,152.5 462.2,154.7 463.1,156.6 464.1,157.9 465.0,158.3 465.8,155.9 466.7,153.5 467.5,151.2 468.3,148.8 469.2,146.4 470.0,144.0 470.8,140.8 471.6,137.5 472.5,134.2 473.3,131.0 474.1,128.5 475.0,125.9 475.8,123.4 476.7,120.8 477.5,118.3 478.4,117.5 479.3,116.8 480.2,116.0 481.1,115.3 482.0,114.5 483.0,113.8 483.9,113.0 484.8,112.3 485.7,111.5 486.6,110.8 487.5,110.0 488.4,109.5 489.3,108.9 490.2,108.4 491.1,107.8 492.0,107.3 493.0,106.7 493.9,106.2 494.8,105.6 495.7,105.1 496.6,104.5 497.5,104.0 498.5,103.8 499.5,103.6 500.4,103.4 501.4,103.2 502.4,103.0 503.4,102.7 504.4,102.5 505.4,102.3 506.3,102.1 507.3,101.9 508.3,101.7 509.2,103.2 510.2,104.8 511.1,106.3 512.0,107.8 513.0,109.4 513.9,110.9 514.9,112.5 515.8,114.0 516.6,117.2 517.5,120.3 518.4,123.5 519.2,126.7 520.0,133.3 520.8,140.0 521.6,143.1 522.5,146.2 523.4,149.4 524.2,152.5 525.0,155.3 525.8,158.2 526.7,161.0 527.5,163.9 528.3,166.7 529.1,165.6 530.0,164.5 530.8,163.3 531.6,162.2 532.5,161.1 533.3,160.0 534.1,157.6 535.0,155.2 535.8,152.8 536.7,150.4 537.5,148.0 538.3,143.7 539.2,139.3 540.0,135.0 540.8,132.8 541.7,130.6 542.5,128.4 543.4,126.2 544.2,124.0 545.0,123.4 545.8,122.7 546.7,122.1 547.5,121.4 548.3,120.8 549.3,122.9 550.2,125.1 551.2,127.2 552.2,129.3 553.1,131.5 554.1,133.6 555.1,135.7 556.0,137.9 557.0,140.0 557.9,141.1 558.8,142.2 559.8,143.3 560.7,144.5 561.6,145.6 562.5,146.7 563.4,146.2 564.3,145.8 565.2,145.3 566.1,144.9 567.0,144.4 568.0,144.0 568.9,143.5 569.8,143.1 570.7,142.6 571.6,142.2 572.5,141.7 573.3,139.5 574.2,137.2 575.0,135.0 575.8,132.8 576.7,130.5 577.5,128.3 578.3,123.9 579.2,119.4 580.0,115.0 581.0,113.0 581.9,110.9 582.9,108.9 583.8,106.9 584.8,104.9 585.7,102.8 586.7,100.8 587.6,101.9 588.6,102.9 589.5,104.0 590.5,105.1 591.4,106.2 592.4,107.2 593.3,108.3 594.1,111.5 595.0,114.7 595.9,117.8 596.7,121.0 597.5,127.5 598.3,134.0 598.8,140.8 599.2,147.5 599.6,154.6 600.0,161.7 600.4,168.3 600.8,175.0 601.2,182.0 601.7,189.0 602.1,196.0 602.5,203.0 602.9,209.8 603.3,216.7 603.8,230.8 604.2,245.0 604.6,251.5 605.0,258.0 605.4,264.0 605.8,270.0 606.2,276.5 606.7,283.0 607.1,296.5 607.5,310.0 607.9,330.0 608.3,350.0 608.8,370.0 609.2,390.0 610.0,405.0 610.8,420.0 611.2,427.5 611.7,435.0 612.4,420.0 613.0,405.0 613.8,391.7 614.7,378.3 615.5,365.0 616.4,359.6 617.3,354.2 618.2,348.8 619.1,343.4 620.0,338.0 620.8,341.0 621.7,349.2 622.5,360.5 623.3,371.8 624.2,380.0 625.0,383.0 625.9,361.5 626.7,340.0 627.1,333.4 627.5,326.7 627.9,319.9 628.3,313.0 628.4,306.5 628.5,300.0 628.9,293.4 629.2,286.7 629.4,279.2 629.6,271.7 629.8,265.0 630.0,258.3 630.4,251.7 630.8,245.0 631.2,238.3 631.7,231.7 632.1,225.0 632.5,218.3 632.9,211.7 633.3,205.0 634.1,198.3 635.0,191.7 635.4,184.6 635.8,177.5 636.2,170.8 636.7,164.2 637.5,157.5 638.3,150.8 639.1,144.6 640.0,138.3 640.8,137.6 641.7,137.0 642.5,136.3 643.4,135.7 644.2,135.0 645.1,136.7 646.1,138.3 647.0,140.0 648.0,141.7 648.9,143.4 649.9,145.0 650.8,146.7 651.6,151.1 652.5,155.6 653.3,160.0 654.1,167.1 655.0,174.2 655.9,180.8 656.7,187.5 657.5,192.2 658.4,197.0 659.2,201.7 660.0,204.0 660.8,206.3 661.7,208.7 662.5,211.0 663.3,213.3 664.3,212.1 665.2,210.9 666.2,209.7 667.1,208.6 668.1,207.4 669.0,206.2 670.0,205.0 670.8,200.6 671.7,196.1 672.5,191.7 673.4,185.0 674.2,178.3 675.0,171.7 675.8,165.0 676.6,158.3 677.5,151.7 678.3,147.2 679.2,142.8 680.0,138.3 680.9,136.4 681.8,134.4 682.8,132.5 683.7,130.6 684.6,128.6 685.5,126.7 686.4,128.6 687.2,130.4 688.1,132.3 689.0,134.2 689.9,136.1 690.8,137.9 691.6,139.8 692.5,141.7 693.3,146.1 694.2,150.6 695.0,155.0 695.9,161.7 696.7,168.3 697.1,175.0 697.5,181.7 698.4,188.3 699.2,195.0 699.6,201.7 700.0,208.3 700.4,215.0 700.8,221.7 701.2,228.3 701.7,235.0 702.1,242.1 702.5,249.2 703.4,255.8 704.2,262.5 705.0,265.3 705.8,268.1 706.7,270.9 707.5,273.7 708.3,276.5 709.1,269.9 710.0,263.3 710.9,256.6 711.7,250.0 712.5,245.6 713.4,241.1 714.2,236.7 714.6,230.0 715.0,223.3 715.4,216.7 715.8,210.0 716.6,203.3 717.5,196.7 717.9,190.0 718.3,183.3 719.1,176.2 720.0,169.2 720.9,162.9 721.7,156.7 722.5,150.0 723.3,143.3 723.8,135.8 724.2,128.3 725.0,123.9 725.9,119.4 726.7,115.0 727.5,112.6 728.4,110.3 729.2,107.9 730.0,105.5 730.9,103.2 731.7,100.8 732.6,101.2 733.5,101.6 734.4,102.1 735.3,102.5 736.2,102.9 737.2,103.3 738.1,103.7 739.0,104.2 739.9,104.6 740.8,105.0 741.7,105.9 742.6,106.8 743.6,107.7 744.5,108.6 745.4,109.5 746.3,110.4 747.2,111.3 748.2,112.2 749.1,113.1 750.0,114.0 750.9,115.1 751.8,116.2 752.8,117.3 753.7,118.4 754.6,119.6 755.5,120.7 756.5,121.8 757.4,122.9 758.3,124.0 759.1,127.4 760.0,130.8 760.9,134.1 761.7,137.5 762.6,140.2 763.4,142.9 764.3,145.6 765.1,148.3 766.0,151.0 766.9,150.8 767.9,150.4 768.8,149.7 769.7,148.7 770.7,147.5 771.6,146.2 772.5,144.7 773.5,143.3 774.4,141.8 775.3,140.5 776.3,139.3 777.2,138.3 778.1,137.6 779.1,137.2 780.0,137.0 780.9,137.3 781.9,138.0 782.8,139.2 783.7,140.8 784.6,142.7 785.6,144.8 786.5,147.0 787.4,149.2 788.4,151.3 789.3,153.2 790.2,154.8 791.1,156.0 792.1,156.7 793.0,157.0 793.9,156.3 794.8,154.3 795.8,151.0 796.7,146.8 797.6,141.8 798.5,136.5 799.4,131.2 800.3,126.2 801.2,122.0 802.2,118.7 803.1,116.7 804.0,116.0 805.0,118.6 806.0,121.1 807.0,123.7 807.9,126.2 808.9,128.8 809.9,131.3 810.9,133.9 811.9,136.5 812.8,139.0 813.8,141.6 814.8,144.1 815.8,146.7 816.6,153.8 817.5,160.8 818.4,167.5 819.2,174.2 820.0,180.8 820.8,187.5 821.6,194.2 822.5,200.8 823.3,205.3 824.2,209.7 825.0,214.2 825.8,217.3 826.6,220.4 827.5,223.6 828.3,226.7 829.1,224.0 830.0,221.3 830.8,218.7 831.7,216.0 832.5,213.3 833.3,208.9 834.2,204.4 835.0,200.0 835.9,193.3 836.7,186.7 837.1,180.0 837.5,173.3 837.9,166.7 838.3,160.0 839.1,155.6 840.0,151.1 840.8,146.7 841.6,142.0 842.5,137.2 843.3,132.5 844.1,128.1 845.0,123.6 845.8,119.2 846.6,116.7 847.5,114.2 848.3,111.7 849.1,109.2 850.0,106.7 850.8,104.2 851.7,104.5 852.6,104.9 853.6,105.2 854.5,105.5 855.4,105.8 856.3,106.2 857.2,106.5 858.2,106.8 859.1,107.2 860.0,107.5 861.0,109.2 861.9,110.8 862.9,112.5 863.8,114.2 864.8,115.9 865.7,117.5 866.7,119.2 867.5,122.0 868.3,124.8 869.2,127.7 870.0,130.5 870.8,133.3 871.8,135.2 872.8,137.2 873.8,139.2 874.7,141.1 875.7,143.1 876.7,145.0 877.6,144.0 878.6,143.1 879.5,142.1 880.5,141.2 881.4,140.2 882.4,139.3 883.3,138.3 884.1,136.0 885.0,133.7 885.8,131.3 886.7,129.0 887.5,126.7 888.5,123.8 889.4,120.9 890.4,118.0 891.4,115.0 892.3,112.1 893.3,109.2 894.2,109.8 895.2,110.5 896.1,111.1 897.0,111.8 898.0,112.4 898.9,113.1 899.8,113.7 900.8,114.4 901.7,115.0 902.5,118.3 903.4,121.7 904.2,125.0 905.0,128.3 905.8,132.8 906.7,137.2 907.5,141.7 908.3,146.1 909.2,150.6 910.0,155.0 910.8,157.2 911.7,159.4 912.5,161.7 913.3,163.9 914.2,166.1 915.0,168.3 915.9,167.4 916.8,166.6 917.8,165.7 918.7,164.9 919.6,164.0 920.5,160.9 921.5,157.9 922.4,154.8 923.1,148.4 923.8,142.0 924.5,137.8 925.2,133.7 925.9,129.5 926.6,122.5 927.3,115.5 928.0,111.3 928.7,107.0 929.4,102.8 930.1,95.8 930.8,88.8 931.5,83.9 932.2,78.9 932.9,74.0 933.6,69.6 934.3,65.1 935.0,60.7 935.7,56.3 936.5,51.8 937.2,47.4 938.0,44.4 938.7,41.5 939.5,38.5 940.2,35.5 941.0,34.3 941.7,33.0 942.5,31.8 943.4,31.4 944.2,31.0"/>
</g>
<text class="tk" text-anchor="end" x="191" y="48.6">0</text>
<text class="tk" text-anchor="end" x="191" y="211.6">10</text>
<text class="tk" text-anchor="end" transform="translate(139.44,215.17) scale(1.19,1)">−</text>
<text class="tk" text-anchor="end" x="191" y="374.5">20</text>
<text class="tk" text-anchor="end" transform="translate(139.44,378.14) scale(1.19,1)">−</text>
<text class="tk" text-anchor="end" x="191" y="537.5">30</text>
<text class="tk" text-anchor="end" transform="translate(139.44,541.11) scale(1.19,1)">−</text>
<text class="tk" text-anchor="end" x="191" y="700.5">40</text>
<text class="tk" text-anchor="end" transform="translate(139.44,704.09) scale(1.19,1)">−</text>
<text class="tk" text-anchor="end" x="191" y="863.5">50</text>
<text class="tk" text-anchor="end" transform="translate(139.44,867.06) scale(1.19,1)">−</text>
<text class="tk" text-anchor="end" x="191" y="1026.4">60</text>
<text class="tk" text-anchor="end" transform="translate(139.44,1030.03) scale(1.19,1)">−</text>
<text class="tk" text-anchor="end" x="191" y="1189.4">70</text>
<text class="tk" text-anchor="end" transform="translate(139.44,1193.00) scale(1.19,1)">−</text>
<text class="tk" text-anchor="start" x="198.6" y="1237">1.5</text>
<text class="tk" text-anchor="end" transform="translate(195.29,1240.60) scale(1.19,1)">−</text>
<text class="tk" text-anchor="start" x="461.2" y="1237">1</text>
<text class="tk" text-anchor="end" transform="translate(457.88,1240.60) scale(1.19,1)">−</text>
<text class="tk" text-anchor="start" x="687.1" y="1237">0.5</text>
<text class="tk" text-anchor="end" transform="translate(683.79,1240.60) scale(1.19,1)">−</text>
<text class="tk" text-anchor="middle" x="944.2" y="1237">0</text>
<text class="tk" text-anchor="middle" x="1188.5" y="1237">0.5</text>
<text class="tk" text-anchor="middle" x="1432.8" y="1237">1</text>
<text class="tk" text-anchor="middle" x="1677.0" y="1237">1.5</text>
<text class="al" text-anchor="start" x="828.5" y="1325.2">Angle/<tspan dx="8" dy="7" font-size="81">°</tspan></text>
<text class="al" text-anchor="middle" transform="translate(75.3,601.5) rotate(-90)">Gain/dB</text>
<rect x="478" y="715.7" width="932.5" height="427.8" fill="#fff" stroke="#262626" stroke-width="2.6"/>
<line stroke="#0072bd" stroke-width="8" x1="491.2" y1="805.8" x2="627.5" y2="805.8"/>
<line stroke="#000" stroke-width="8" x1="981" y1="805.8" x2="1117.3" y2="805.8"/>
<text class="lg" x="636.8" y="829.6">Main Radar</text>
<text class="lg" x="1126.6" y="786.4">Proposed</text>
<text class="lg" x="1126" y="873">Method</text>
<line class="d" stroke="#edb120" x1="491.2" y1="931.9" x2="623.0" y2="931.9"/>
<line class="d" stroke="#7e2f8e" x1="981" y1="931.9" x2="1112.8" y2="931.9"/>
<text class="lg" x="636.6" y="955.6">CSSA</text>
<text class="lg" x="1126.4" y="955.6">DSMA</text>
<line class="d" stroke="#77ac30" x1="491.2" y1="1014.4" x2="623.0" y2="1014.4"/>
<line class="d" stroke="#4dbeee" x1="981" y1="1014.4" x2="1112.8" y2="1014.4"/>
<text class="lg" x="636.6" y="1037.7">WCA</text>
<text class="lg" x="1126.4" y="1037.7">QPSO</text>
<line class="d" stroke="#a2142f" x1="491.2" y1="1097" x2="623.0" y2="1097"/>
<line class="d" stroke="#0072bd" x1="981" y1="1097" x2="1112.8" y2="1097"/>
<text class="lg" x="636.6" y="1119.6">EHHO</text>
<text class="lg" x="1126.4" y="1119.6">AGA</text>
</svg></body></html>
